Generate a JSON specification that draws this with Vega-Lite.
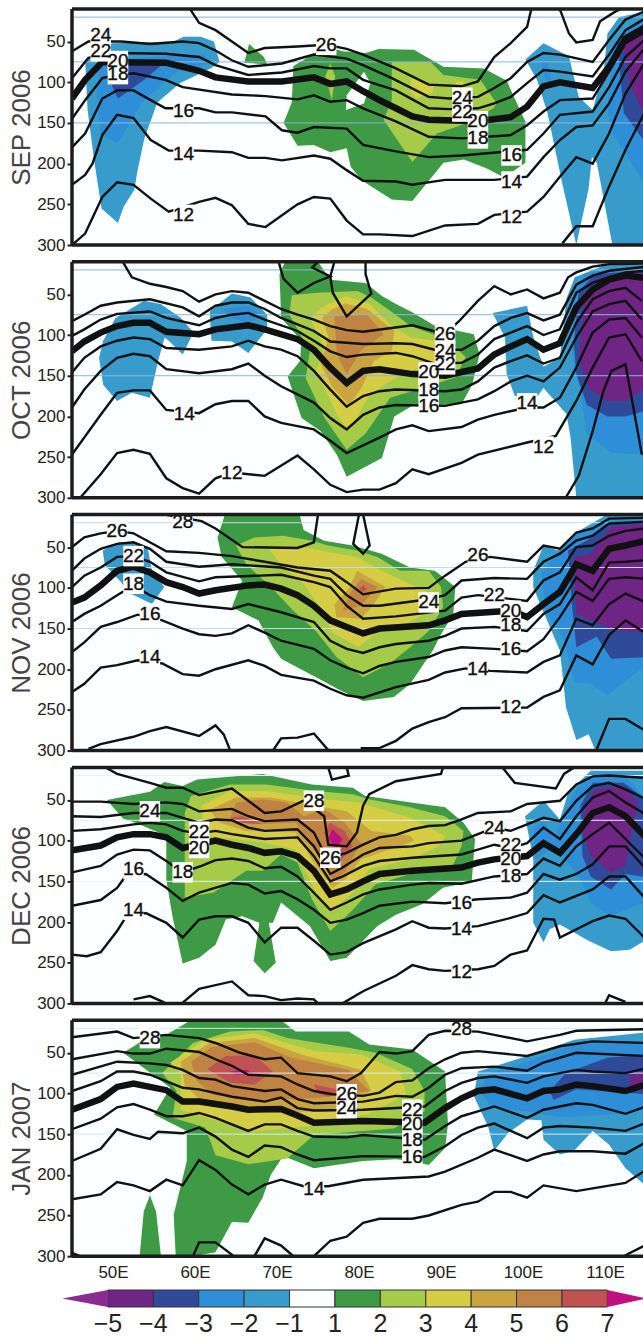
{"$schema":"https://vega.github.io/schema/vega-lite/v6.json","padding":{"left":8,"top":7,"right":0,"bottom":0},"background":"white","bounds":"flush","spacing":16.8,
"config":{"view":{"fill":"#fbffff","stroke":null},"axisY":{"values":[50,100,150,200,250,300],"domain":false,"grid":false,"tickColor":"#222","tickWidth":2,"tickSize":5,"labelFont":"Liberation Sans","labelFontSize":17,"labelColor":"#222","labelPadding":2,"titleFont":"Liberation Sans","titleFontSize":26,"titleFontWeight":"normal","titleColor":"#444","titlePadding":2}},
"datasets":{
"h":[{"x":45,"x2":115,"y":20},{"x":45,"x2":115,"y":75},{"x":45,"x2":115,"y":150}],
"e":[{"x":45,"x2":115,"y":10},{"x":45,"x2":115,"y":300}],
"w":[{"x":45,"y":10,"y2":300}],
"c":[{"v":-5,"x":0,"x2":1,"y":0,"y2":1},{"v":-4,"x":1,"x2":2,"y":0,"y2":1},{"v":-3,"x":2,"x2":3,"y":0,"y2":1},{"v":-2,"x":3,"x2":4,"y":0,"y2":1},{"v":0,"x":4,"x2":5,"y":0,"y2":1},{"v":1,"x":5,"x2":6,"y":0,"y2":1},{"v":2,"x":6,"x2":7,"y":0,"y2":1},{"v":3,"x":7,"x2":8,"y":0,"y2":1},{"v":4,"x":8,"x2":9,"y":0,"y2":1},{"v":5,"x":9,"x2":10,"y":0,"y2":1},{"v":6,"x":10,"x2":11,"y":0,"y2":1}],
"k":[{"s":"a","v":-6,"x":0,"y":0},{"s":"a","v":-6,"x":-1,"y":0.5},{"s":"a","v":-6,"x":0,"y":1},{"s":"b","v":7,"x":11,"y":0},{"s":"b","v":7,"x":11.85,"y":0.5},{"s":"b","v":7,"x":11,"y":1}],
"m":[{"x":0,"t":"−5"},{"x":1,"t":"−4"},{"x":2,"t":"−3"},{"x":3,"t":"−2"},{"x":4,"t":"−1"},{"x":5,"t":"1"},{"x":6,"t":"2"},{"x":7,"t":"3"},{"x":8,"t":"4"},{"x":9,"t":"5"},{"x":10,"t":"6"},{"x":11,"t":"7"}],
"t1":[{"x":48.5,"y":42,"t":"24"},{"x":48.5,"y":62,"t":"22"},{"x":50.6,"y":90,"t":"18"},{"x":50.6,"y":74,"t":"20"},{"x":58.6,"y":135,"t":"16"},{"x":58.6,"y":188,"t":"14"},{"x":58.6,"y":263,"t":"12"},{"x":76,"y":54,"t":"26"},{"x":92.6,"y":136,"t":"22"},{"x":92.6,"y":119,"t":"24"},{"x":98.6,"y":190,"t":"16"},{"x":94.5,"y":169,"t":"18"},{"x":94.5,"y":148,"t":"20"},{"x":98.6,"y":222,"t":"14"},{"x":98.6,"y":265,"t":"12"}],
"t2":[{"x":90.5,"y":99,"t":"26"},{"x":90.5,"y":136,"t":"22"},{"x":90.5,"y":120,"t":"24"},{"x":88.5,"y":146,"t":"20"},{"x":88.5,"y":167,"t":"18"},{"x":88.5,"y":187,"t":"16"},{"x":58.7,"y":197,"t":"14"},{"x":100.5,"y":184,"t":"14"},{"x":64.5,"y":269,"t":"12"},{"x":102.5,"y":237,"t":"12"}],
"t3":[{"x":58.5,"y":19,"t":"28"},{"x":50.5,"y":30,"t":"26"},{"x":52.5,"y":61,"t":"22"},{"x":52.5,"y":95,"t":"18"},{"x":54.5,"y":132,"t":"16"},{"x":54.5,"y":185,"t":"14"},{"x":94.5,"y":60,"t":"26"},{"x":88.5,"y":118,"t":"24"},{"x":96.5,"y":109,"t":"22"},{"x":98.5,"y":128,"t":"20"},{"x":98.5,"y":146,"t":"18"},{"x":98.5,"y":175,"t":"16"},{"x":94.5,"y":200,"t":"14"},{"x":98.5,"y":247,"t":"12"}],
"t4":[{"x":54.5,"y":64,"t":"24"},{"x":60.5,"y":89,"t":"22"},{"x":60.5,"y":109,"t":"20"},{"x":58.5,"y":139,"t":"18"},{"x":52.5,"y":135,"t":"16"},{"x":52.5,"y":185,"t":"14"},{"x":74.5,"y":51,"t":"28"},{"x":76.5,"y":121,"t":"26"},{"x":96.5,"y":84,"t":"24"},{"x":98.5,"y":105,"t":"22"},{"x":98.5,"y":122,"t":"20"},{"x":98.5,"y":144,"t":"18"},{"x":92.5,"y":177,"t":"16"},{"x":92.5,"y":208,"t":"14"},{"x":92.5,"y":262,"t":"12"}],
"t5":[{"x":54.5,"y":32,"t":"28"},{"x":92.5,"y":21,"t":"28"},{"x":78.5,"y":118,"t":"24"},{"x":78.5,"y":101,"t":"26"},{"x":86.5,"y":120,"t":"22"},{"x":86.5,"y":137,"t":"20"},{"x":86.5,"y":157,"t":"18"},{"x":86.5,"y":178,"t":"16"},{"x":74.5,"y":218,"t":"14"}],
"f1":[
{"s":"a","v":-2,"x":46.6,"y":72},{"s":"a","v":-2,"x":49.9,"y":52},{"s":"a","v":-2,"x":57.4,"y":50},{"s":"a","v":-2,"x":58.6,"y":44},{"s":"a","v":-2,"x":60.7,"y":44},{"s":"a","v":-2,"x":62.3,"y":50},{"s":"a","v":-2,"x":63,"y":75},{"s":"a","v":-2,"x":61.9,"y":83},{"s":"a","v":-2,"x":58.2,"y":101},{"s":"a","v":-2,"x":55.4,"y":125},{"s":"a","v":-2,"x":53.8,"y":170},{"s":"a","v":-2,"x":53,"y":208},{"s":"a","v":-2,"x":52.6,"y":232},{"s":"a","v":-2,"x":51.3,"y":253},{"s":"a","v":-2,"x":50.6,"y":273},{"s":"a","v":-2,"x":48.6,"y":255},{"s":"a","v":-2,"x":47.7,"y":196},{"s":"a","v":-2,"x":46.9,"y":134},
{"s":"b","v":-3,"x":48.5,"y":72},{"s":"b","v":-3,"x":61,"y":66},{"s":"b","v":-3,"x":62,"y":76},{"s":"b","v":-3,"x":58,"y":85},{"s":"b","v":-3,"x":53.5,"y":125},{"s":"b","v":-3,"x":50.6,"y":175},{"s":"b","v":-3,"x":48.5,"y":163},{"s":"b","v":-3,"x":48,"y":113},
{"s":"c","v":-4,"x":49.7,"y":78},{"s":"c","v":-4,"x":55.8,"y":80},{"s":"c","v":-4,"x":53.8,"y":97},{"s":"c","v":-4,"x":50.6,"y":120},{"s":"c","v":-4,"x":49.7,"y":100},
{"s":"d","v":-2,"x":100.3,"y":72},{"s":"d","v":-2,"x":102.5,"y":52},{"s":"d","v":-2,"x":105.6,"y":68},{"s":"d","v":-2,"x":106.8,"y":118},{"s":"d","v":-2,"x":108.5,"y":134},{"s":"d","v":-2,"x":109.9,"y":81},{"s":"d","v":-2,"x":110.3,"y":40},{"s":"d","v":-2,"x":111.7,"y":20},{"s":"d","v":-2,"x":115,"y":13},{"s":"d","v":-2,"x":115,"y":300},{"s":"d","v":-2,"x":110.9,"y":300},{"s":"d","v":-2,"x":109,"y":199},{"s":"d","v":-2,"x":108.4,"y":192},{"s":"d","v":-2,"x":108,"y":231},{"s":"d","v":-2,"x":106.5,"y":300},{"s":"d","v":-2,"x":104.8,"y":225},{"s":"d","v":-2,"x":103,"y":138},{"s":"d","v":-2,"x":101.7,"y":97},
{"s":"e","v":-3,"x":102.1,"y":75},{"s":"e","v":-3,"x":103,"y":75},{"s":"e","v":-3,"x":103.6,"y":105},{"s":"e","v":-3,"x":102.7,"y":95},
{"s":"f","v":-3,"x":111,"y":52},{"s":"f","v":-3,"x":114.5,"y":23},{"s":"f","v":-3,"x":115,"y":23},{"s":"f","v":-3,"x":115,"y":228},{"s":"f","v":-3,"x":111,"y":163},{"s":"f","v":-3,"x":110.3,"y":134},
{"s":"g","v":-4,"x":111.5,"y":52},{"s":"g","v":-4,"x":115,"y":28},{"s":"g","v":-4,"x":115,"y":175},{"s":"g","v":-4,"x":112.3,"y":138},
{"s":"i","v":-5,"x":112.3,"y":57},{"s":"i","v":-5,"x":115,"y":25},{"s":"i","v":-5,"x":115,"y":143},{"s":"i","v":-5,"x":113.1,"y":106},
{"s":"j","v":1,"x":66.6,"y":53},{"s":"j","v":1,"x":68.4,"y":69},{"s":"j","v":1,"x":68.8,"y":78},{"s":"j","v":1,"x":66,"y":76},
{"s":"k","v":1,"x":70.8,"y":150},{"s":"k","v":1,"x":71.8,"y":125},{"s":"k","v":1,"x":72,"y":80},{"s":"k","v":1,"x":76,"y":56},{"s":"k","v":1,"x":78,"y":62},{"s":"k","v":1,"x":80.8,"y":64},{"s":"k","v":1,"x":82.4,"y":59},{"s":"k","v":1,"x":86.7,"y":60},{"s":"k","v":1,"x":90.3,"y":81},{"s":"k","v":1,"x":95.2,"y":83},{"s":"k","v":1,"x":98,"y":98},{"s":"k","v":1,"x":100.3,"y":149},{"s":"k","v":1,"x":100.3,"y":199},{"s":"k","v":1,"x":97.7,"y":217},{"s":"k","v":1,"x":95.6,"y":206},{"s":"k","v":1,"x":92.8,"y":195},{"s":"k","v":1,"x":90.3,"y":199},{"s":"k","v":1,"x":86.5,"y":246},{"s":"k","v":1,"x":84,"y":244},{"s":"k","v":1,"x":80.4,"y":221},{"s":"k","v":1,"x":79,"y":204},{"s":"k","v":1,"x":78.5,"y":181},{"s":"k","v":1,"x":76.5,"y":186},{"s":"k","v":1,"x":74.5,"y":177},{"s":"k","v":1,"x":72.5,"y":178},
{"s":"l","v":0,"x":80.6,"y":87},{"s":"l","v":0,"x":81.4,"y":101},{"s":"l","v":0,"x":80.6,"y":126},{"s":"l","v":0,"x":78.4,"y":134},{"s":"l","v":0,"x":78.5,"y":116},
{"s":"m","v":2,"x":84,"y":75},{"s":"m","v":2,"x":88.7,"y":75},{"s":"m","v":2,"x":90.3,"y":91},{"s":"m","v":2,"x":94.8,"y":97},{"s":"m","v":2,"x":96.8,"y":126},{"s":"m","v":2,"x":96.4,"y":132},{"s":"m","v":2,"x":93.2,"y":150},{"s":"m","v":2,"x":89.5,"y":163},{"s":"m","v":2,"x":86.5,"y":198},{"s":"m","v":2,"x":83,"y":146},{"s":"m","v":2,"x":84,"y":122},
{"s":"n","v":2,"x":76.5,"y":77},{"s":"n","v":2,"x":75.9,"y":93},{"s":"n","v":2,"x":76.7,"y":122},{"s":"n","v":2,"x":77.1,"y":93},
{"s":"o","v":3,"x":86.3,"y":95},{"s":"o","v":3,"x":89.1,"y":105},{"s":"o","v":3,"x":89,"y":113},{"s":"o","v":3,"x":86.9,"y":120},{"s":"o","v":3,"x":86.3,"y":110},
{"s":"q","v":3,"x":91.8,"y":99},{"s":"q","v":3,"x":92.8,"y":99},{"s":"q","v":3,"x":92.6,"y":106},{"s":"q","v":3,"x":91.8,"y":106}],
"l1":[
{"s":"26","x":59.4,"y":10},{"s":"26","x":60.5,"y":27},{"s":"26","x":62.5,"y":36},{"s":"26","x":64.5,"y":50},{"s":"26","x":66.5,"y":64},{"s":"26","x":68.5,"y":58},{"s":"26","x":72.5,"y":56},{"s":"26","x":76,"y":54},{"s":"26","x":78.5,"y":59},{"s":"26","x":80.5,"y":66},{"s":"26","x":84.5,"y":83},{"s":"26","x":88.5,"y":103},{"s":"26","x":92.5,"y":105},{"s":"26","x":94.5,"y":99},{"s":"26","x":96.5,"y":69},{"s":"26","x":98.5,"y":52},{"s":"26","x":100.5,"y":32},{"s":"26","x":100.9,"y":15},{"s":"26","x":101,"y":10},
{"s":"28","x":104.4,"y":10},{"s":"28","x":104.6,"y":13},{"s":"28","x":105.6,"y":40},{"s":"28","x":106.5,"y":51},{"s":"28","x":108.5,"y":48},{"s":"28","x":109.4,"y":25},{"s":"28","x":111.3,"y":13},{"s":"28","x":112,"y":10},
{"s":"24","x":45,"y":62},{"s":"24","x":47,"y":50},{"s":"24","x":51,"y":50},{"s":"24","x":54.6,"y":53},{"s":"24","x":58.5,"y":50},{"s":"24","x":60.5,"y":52},{"s":"24","x":62.5,"y":61},{"s":"24","x":64.5,"y":73},{"s":"24","x":66.5,"y":81},{"s":"24","x":70.6,"y":77},{"s":"24","x":74.5,"y":66},{"s":"24","x":78.5,"y":71},{"s":"24","x":80.5,"y":79},{"s":"24","x":84,"y":95},{"s":"24","x":88.5,"y":118},{"s":"24","x":91,"y":120},{"s":"24","x":94.5,"y":118},{"s":"24","x":96.5,"y":107},{"s":"24","x":98.5,"y":95},{"s":"24","x":100.5,"y":75},{"s":"24","x":102.5,"y":64},{"s":"24","x":104.5,"y":66},{"s":"24","x":108.5,"y":75},{"s":"24","x":110.5,"y":48},{"s":"24","x":112.5,"y":23},{"s":"24","x":115,"y":12},
{"s":"22","x":45,"y":95},{"s":"22","x":47,"y":70},{"s":"22","x":50.5,"y":64},{"s":"22","x":56.4,"y":65},{"s":"22","x":60.5,"y":69},{"s":"22","x":62.5,"y":79},{"s":"22","x":66.5,"y":91},{"s":"22","x":70.6,"y":88},{"s":"22","x":74.5,"y":80},{"s":"22","x":76.5,"y":83},{"s":"22","x":78.5,"y":83},{"s":"22","x":80.5,"y":97},{"s":"22","x":84.5,"y":110},{"s":"22","x":88.5,"y":132},{"s":"22","x":91,"y":133},{"s":"22","x":94.5,"y":132},{"s":"22","x":96.5,"y":126},{"s":"22","x":98.5,"y":118},{"s":"22","x":100.5,"y":101},{"s":"22","x":102.5,"y":85},{"s":"22","x":104.5,"y":87},{"s":"22","x":108.5,"y":93},{"s":"22","x":110.5,"y":66},{"s":"22","x":112.5,"y":36},{"s":"22","x":115,"y":21},
{"s":"20","x":45,"y":120},{"s":"20","x":46.6,"y":97},{"s":"20","x":48.7,"y":75},{"s":"20","x":56.4,"y":76},{"s":"20","x":58.5,"y":81},{"s":"20","x":60.5,"y":86},{"s":"20","x":62.5,"y":94},{"s":"20","x":66.5,"y":99},{"s":"20","x":70.6,"y":99},{"s":"20","x":74.5,"y":94},{"s":"20","x":76.5,"y":102},{"s":"20","x":78.5,"y":99},{"s":"20","x":80.5,"y":111},{"s":"20","x":82.5,"y":122},{"s":"20","x":84.5,"y":132},{"s":"20","x":86.5,"y":142},{"s":"20","x":88.5,"y":146},{"s":"20","x":94.5,"y":148},{"s":"20","x":98.5,"y":143},{"s":"20","x":100.5,"y":130},{"s":"20","x":102.5,"y":105},{"s":"20","x":104.5,"y":100},{"s":"20","x":108.5,"y":107},{"s":"20","x":110.5,"y":81},{"s":"20","x":112.5,"y":46},{"s":"20","x":115,"y":32},
{"s":"18","x":45,"y":145},{"s":"18","x":46.6,"y":122},{"s":"18","x":48.7,"y":95},{"s":"18","x":50.5,"y":91},{"s":"18","x":52.5,"y":89},{"s":"18","x":56.4,"y":97},{"s":"18","x":58.5,"y":106},{"s":"18","x":64.5,"y":115},{"s":"18","x":68.6,"y":117},{"s":"18","x":72.5,"y":121},{"s":"18","x":74.5,"y":116},{"s":"18","x":76.5,"y":124},{"s":"18","x":78.5,"y":122},{"s":"18","x":80.5,"y":132},{"s":"18","x":84.5,"y":148},{"s":"18","x":88.5,"y":167},{"s":"18","x":92.5,"y":169},{"s":"18","x":98.5,"y":165},{"s":"18","x":100.5,"y":153},{"s":"18","x":102.5,"y":136},{"s":"18","x":104.5,"y":122},{"s":"18","x":108.5,"y":120},{"s":"18","x":110.5,"y":87},{"s":"18","x":112.5,"y":52},{"s":"18","x":115,"y":38},
{"s":"16","x":45,"y":180},{"s":"16","x":46.6,"y":163},{"s":"16","x":48.7,"y":120},{"s":"16","x":50.5,"y":110},{"s":"16","x":52.5,"y":110},{"s":"16","x":54.6,"y":122},{"s":"16","x":56.4,"y":132},{"s":"16","x":60.5,"y":132},{"s":"16","x":62.5,"y":137},{"s":"16","x":64.5,"y":137},{"s":"16","x":68.6,"y":142},{"s":"16","x":70.6,"y":159},{"s":"16","x":72.5,"y":162},{"s":"16","x":74.5,"y":155},{"s":"16","x":78.5,"y":157},{"s":"16","x":80.5,"y":177},{"s":"16","x":84.5,"y":185},{"s":"16","x":88.5,"y":192},{"s":"16","x":92.5,"y":190},{"s":"16","x":100.5,"y":183},{"s":"16","x":102.5,"y":163},{"s":"16","x":104.5,"y":140},{"s":"16","x":108.5,"y":136},{"s":"16","x":110.5,"y":106},{"s":"16","x":112.5,"y":69},{"s":"16","x":115,"y":46},
{"s":"14","x":45,"y":226},{"s":"14","x":46.6,"y":214},{"s":"14","x":47.5,"y":200},{"s":"14","x":48.7,"y":165},{"s":"14","x":50.5,"y":140},{"s":"14","x":52.5,"y":144},{"s":"14","x":54.6,"y":171},{"s":"14","x":56.8,"y":184},{"s":"14","x":60.5,"y":184},{"s":"14","x":64.5,"y":186},{"s":"14","x":66.5,"y":193},{"s":"14","x":68.6,"y":193},{"s":"14","x":70.6,"y":196},{"s":"14","x":74.5,"y":190},{"s":"14","x":76.5,"y":194},{"s":"14","x":78.5,"y":208},{"s":"14","x":80.5,"y":221},{"s":"14","x":84.5,"y":222},{"s":"14","x":86.5,"y":226},{"s":"14","x":90.5,"y":220},{"s":"14","x":96.5,"y":220},{"s":"14","x":100.5,"y":216},{"s":"14","x":102.5,"y":192},{"s":"14","x":104.5,"y":171},{"s":"14","x":106.5,"y":155},{"s":"14","x":108.5,"y":153},{"s":"14","x":110.5,"y":126},{"s":"14","x":112.5,"y":87},{"s":"14","x":115,"y":56},
{"s":"12","x":45,"y":300},{"s":"12","x":46.6,"y":286},{"s":"12","x":48.7,"y":241},{"s":"12","x":50.5,"y":223},{"s":"12","x":52.5,"y":226},{"s":"12","x":54.6,"y":243},{"s":"12","x":56.8,"y":259},{"s":"12","x":60.5,"y":247},{"s":"12","x":62.5,"y":242},{"s":"12","x":64.5,"y":251},{"s":"12","x":66.5,"y":274},{"s":"12","x":68.6,"y":278},{"s":"12","x":72.5,"y":250},{"s":"12","x":74.5,"y":241},{"s":"12","x":76.5,"y":243},{"s":"12","x":78.5,"y":270},{"s":"12","x":80.5,"y":287},{"s":"12","x":82.5,"y":287},{"s":"12","x":86.5,"y":289},{"s":"12","x":90.5,"y":276},{"s":"12","x":94.5,"y":274},{"s":"12","x":96.5,"y":263},{"s":"12","x":100.5,"y":259},{"s":"12","x":102.5,"y":241},{"s":"12","x":104.5,"y":216},{"s":"12","x":106.5,"y":192},{"s":"12","x":108.5,"y":200},{"s":"12","x":110.5,"y":163},{"s":"12","x":112.5,"y":114},{"s":"12","x":115,"y":73},
{"s":"10","x":104.8,"y":298},{"s":"10","x":106.5,"y":277},{"s":"10","x":108.5,"y":277},{"s":"10","x":110.5,"y":228},{"s":"10","x":112.5,"y":183},{"s":"10","x":115,"y":134}],
"f2":[
{"s":"a","v":-2,"x":50.3,"y":79},{"s":"a","v":-2,"x":53.8,"y":58},{"s":"a","v":-2,"x":55.8,"y":62},{"s":"a","v":-2,"x":58.3,"y":79},{"s":"a","v":-2,"x":59.8,"y":97},{"s":"a","v":-2,"x":58.5,"y":124},{"s":"a","v":-2,"x":56.8,"y":107},{"s":"a","v":-2,"x":56.3,"y":103},{"s":"a","v":-2,"x":55.5,"y":132},{"s":"a","v":-2,"x":54.5,"y":177},{"s":"a","v":-2,"x":52.3,"y":171},{"s":"a","v":-2,"x":50.5,"y":181},{"s":"a","v":-2,"x":48.8,"y":161},{"s":"a","v":-2,"x":48.3,"y":128},{"s":"a","v":-2,"x":48.8,"y":107},
{"s":"b","v":-2,"x":61.8,"y":71},{"s":"b","v":-2,"x":64.5,"y":49},{"s":"b","v":-2,"x":66.8,"y":54},{"s":"b","v":-2,"x":68.8,"y":75},{"s":"b","v":-2,"x":68.8,"y":93},{"s":"b","v":-2,"x":66.5,"y":122},{"s":"b","v":-2,"x":64.5,"y":108},{"s":"b","v":-2,"x":62,"y":107},
{"s":"c","v":-3,"x":63.5,"y":68},{"s":"c","v":-3,"x":66.3,"y":64},{"s":"c","v":-3,"x":68.3,"y":77},{"s":"c","v":-3,"x":66.3,"y":85},{"s":"c","v":-3,"x":64.2,"y":78},
{"s":"d","v":-2,"x":96.3,"y":73},{"s":"d","v":-2,"x":100.5,"y":64},{"s":"d","v":-2,"x":101.3,"y":104},{"s":"d","v":-2,"x":102.5,"y":139},{"s":"d","v":-2,"x":104.5,"y":128},{"s":"d","v":-2,"x":105.3,"y":55},{"s":"d","v":-2,"x":106.3,"y":29},{"s":"d","v":-2,"x":109.8,"y":15},{"s":"d","v":-2,"x":115,"y":13},{"s":"d","v":-2,"x":115,"y":300},{"s":"d","v":-2,"x":112.5,"y":300},{"s":"d","v":-2,"x":106.5,"y":300},{"s":"d","v":-2,"x":105.8,"y":226},{"s":"d","v":-2,"x":105.3,"y":197},{"s":"d","v":-2,"x":102.5,"y":165},{"s":"d","v":-2,"x":101.8,"y":175},{"s":"d","v":-2,"x":99,"y":175},{"s":"d","v":-2,"x":98,"y":148},{"s":"d","v":-2,"x":97.8,"y":103},
{"s":"e","v":-3,"x":106.3,"y":46},{"s":"e","v":-3,"x":107.5,"y":25},{"s":"e","v":-3,"x":111,"y":17},{"s":"e","v":-3,"x":115,"y":17},{"s":"e","v":-3,"x":115,"y":247},{"s":"e","v":-3,"x":110.8,"y":245},{"s":"e","v":-3,"x":107.8,"y":222},{"s":"e","v":-3,"x":107,"y":172},{"s":"e","v":-3,"x":106,"y":124},
{"s":"f","v":-4,"x":106.8,"y":46},{"s":"f","v":-4,"x":108.8,"y":25},{"s":"f","v":-4,"x":115,"y":21},{"s":"f","v":-4,"x":115,"y":193},{"s":"f","v":-4,"x":112.5,"y":200},{"s":"f","v":-4,"x":110.3,"y":200},{"s":"f","v":-4,"x":107.8,"y":186},{"s":"f","v":-4,"x":106.5,"y":148},{"s":"f","v":-4,"x":106.2,"y":110},
{"s":"g","v":-5,"x":107.5,"y":54},{"s":"g","v":-5,"x":109.5,"y":29},{"s":"g","v":-5,"x":115,"y":23},{"s":"g","v":-5,"x":115,"y":165},{"s":"g","v":-5,"x":112.5,"y":181},{"s":"g","v":-5,"x":110.3,"y":181},{"s":"g","v":-5,"x":108,"y":165},{"s":"g","v":-5,"x":106.8,"y":128},
{"s":"i","v":1,"x":70.3,"y":25},{"s":"i","v":1,"x":71,"y":10},{"s":"i","v":1,"x":75,"y":10},{"s":"i","v":1,"x":76.5,"y":32},{"s":"i","v":1,"x":80.8,"y":36},{"s":"i","v":1,"x":82.8,"y":52},{"s":"i","v":1,"x":84.5,"y":62},{"s":"i","v":1,"x":86.5,"y":72},{"s":"i","v":1,"x":89.3,"y":89},{"s":"i","v":1,"x":94,"y":99},{"s":"i","v":1,"x":94.7,"y":124},{"s":"i","v":1,"x":93.8,"y":161},{"s":"i","v":1,"x":92.5,"y":185},{"s":"i","v":1,"x":86.5,"y":187},{"s":"i","v":1,"x":84.3,"y":200},{"s":"i","v":1,"x":82.8,"y":251},{"s":"i","v":1,"x":78.5,"y":274},{"s":"i","v":1,"x":77.3,"y":247},{"s":"i","v":1,"x":75.3,"y":218},{"s":"i","v":1,"x":73,"y":202},{"s":"i","v":1,"x":71.3,"y":151},{"s":"i","v":1,"x":72.8,"y":132},{"s":"i","v":1,"x":73,"y":107},{"s":"i","v":1,"x":70.5,"y":79},{"s":"i","v":1,"x":70.4,"y":50},
{"s":"j","v":2,"x":71.8,"y":51},{"s":"j","v":2,"x":74.8,"y":48},{"s":"j","v":2,"x":79.8,"y":46},{"s":"j","v":2,"x":81.5,"y":54},{"s":"j","v":2,"x":83.8,"y":70},{"s":"j","v":2,"x":86.3,"y":89},{"s":"j","v":2,"x":89.3,"y":100},{"s":"j","v":2,"x":91.3,"y":110},{"s":"j","v":2,"x":93,"y":127},{"s":"j","v":2,"x":91.8,"y":152},{"s":"j","v":2,"x":87.8,"y":165},{"s":"j","v":2,"x":83.8,"y":177},{"s":"j","v":2,"x":80.8,"y":221},{"s":"j","v":2,"x":78.5,"y":241},{"s":"j","v":2,"x":75.8,"y":202},{"s":"j","v":2,"x":73.5,"y":153},{"s":"j","v":2,"x":74,"y":120},{"s":"j","v":2,"x":71.5,"y":75},
{"s":"k","v":3,"x":75.5,"y":66},{"s":"k","v":3,"x":78.3,"y":52},{"s":"k","v":3,"x":81.3,"y":62},{"s":"k","v":3,"x":83.8,"y":87},{"s":"k","v":3,"x":86.3,"y":103},{"s":"k","v":3,"x":89.3,"y":107},{"s":"k","v":3,"x":89.3,"y":132},{"s":"k","v":3,"x":84.3,"y":153},{"s":"k","v":3,"x":81.3,"y":173},{"s":"k","v":3,"x":78.8,"y":218},{"s":"k","v":3,"x":77.3,"y":198},{"s":"k","v":3,"x":74.8,"y":144},{"s":"k","v":3,"x":75.8,"y":115},{"s":"k","v":3,"x":74,"y":79},
{"s":"l","v":4,"x":76.8,"y":68},{"s":"l","v":4,"x":78.3,"y":61},{"s":"l","v":4,"x":81,"y":68},{"s":"l","v":4,"x":84.3,"y":95},{"s":"l","v":4,"x":84,"y":120},{"s":"l","v":4,"x":81.8,"y":132},{"s":"l","v":4,"x":80.3,"y":165},{"s":"l","v":4,"x":78.8,"y":186},{"s":"l","v":4,"x":76.8,"y":165},{"s":"l","v":4,"x":75.3,"y":135},{"s":"l","v":4,"x":76.3,"y":103},{"s":"l","v":4,"x":75.5,"y":79},
{"s":"m","v":5,"x":77,"y":77},{"s":"m","v":5,"x":81,"y":75},{"s":"m","v":5,"x":83,"y":99},{"s":"m","v":5,"x":80.3,"y":118},{"s":"m","v":5,"x":78.5,"y":148},{"s":"m","v":5,"x":77.3,"y":124}],
"l2":[
{"s":"26","x":51.2,"y":10},{"s":"26","x":52.3,"y":29},{"s":"26","x":54.5,"y":37},{"s":"26","x":56.5,"y":41},{"s":"26","x":58.5,"y":46},{"s":"26","x":60.5,"y":59},{"s":"26","x":62.5,"y":50},{"s":"26","x":64.5,"y":46},{"s":"26","x":66.5,"y":48},{"s":"26","x":68.5,"y":58},{"s":"26","x":70.5,"y":68},{"s":"26","x":72.5,"y":75},{"s":"26","x":74.5,"y":81},{"s":"26","x":76.5,"y":89},{"s":"26","x":78.5,"y":94},{"s":"26","x":80.5,"y":96},{"s":"26","x":86.5,"y":88},{"s":"26","x":90.5,"y":99},{"s":"26","x":92.2,"y":83},{"s":"26","x":94.5,"y":58},{"s":"26","x":96.5,"y":40},{"s":"26","x":98.5,"y":50},{"s":"26","x":100.5,"y":44},{"s":"26","x":102.5,"y":55},{"s":"26","x":104.5,"y":48},{"s":"26","x":105.5,"y":29},{"s":"26","x":106.5,"y":23},{"s":"26","x":108.5,"y":16},{"s":"26","x":110.5,"y":13},{"s":"26","x":115,"y":12},
{"s":"28a","x":70.2,"y":10},{"s":"28a","x":70.8,"y":31},{"s":"28a","x":72.5,"y":48},{"s":"28a","x":74.5,"y":36},{"s":"28a","x":76.5,"y":28},{"s":"28a","x":74.3,"y":17},{"s":"28a","x":75,"y":10},
{"s":"28b","x":77,"y":10},{"s":"28b","x":76.5,"y":28},{"s":"28b","x":76.8,"y":48},{"s":"28b","x":78.5,"y":77},{"s":"28b","x":81.5,"y":49},{"s":"28b","x":80.8,"y":25},{"s":"28b","x":80.8,"y":10},
{"s":"24","x":45,"y":83},{"s":"24","x":46.5,"y":75},{"s":"24","x":48.5,"y":64},{"s":"24","x":50.5,"y":60},{"s":"24","x":54.5,"y":56},{"s":"24","x":58.5,"y":66},{"s":"24","x":60.5,"y":77},{"s":"24","x":62.5,"y":64},{"s":"24","x":64.5,"y":60},{"s":"24","x":66.5,"y":60},{"s":"24","x":68.5,"y":68},{"s":"24","x":70.5,"y":79},{"s":"24","x":72.5,"y":87},{"s":"24","x":74.5,"y":95},{"s":"24","x":76.5,"y":108},{"s":"24","x":80.5,"y":111},{"s":"24","x":84.5,"y":110},{"s":"24","x":86.5,"y":111},{"s":"24","x":89.2,"y":118},{"s":"24","x":92.5,"y":118},{"s":"24","x":94.5,"y":107},{"s":"24","x":96.5,"y":89},{"s":"24","x":98.5,"y":79},{"s":"24","x":100.5,"y":73},{"s":"24","x":102.5,"y":82},{"s":"24","x":104.5,"y":75},{"s":"24","x":106.5,"y":38},{"s":"24","x":108.5,"y":27},{"s":"24","x":110.5,"y":21},{"s":"24","x":115,"y":16},
{"s":"22","x":45,"y":101},{"s":"22","x":46.5,"y":93},{"s":"22","x":48.5,"y":81},{"s":"22","x":50.5,"y":74},{"s":"22","x":54.5,"y":71},{"s":"22","x":56.5,"y":79},{"s":"22","x":60.5,"y":88},{"s":"22","x":62.5,"y":79},{"s":"22","x":64.5,"y":75},{"s":"22","x":66.5,"y":73},{"s":"22","x":68.5,"y":81},{"s":"22","x":72.5,"y":95},{"s":"22","x":74.5,"y":107},{"s":"22","x":76.5,"y":120},{"s":"22","x":78.5,"y":127},{"s":"22","x":80.5,"y":124},{"s":"22","x":84.5,"y":122},{"s":"22","x":86.5,"y":126},{"s":"22","x":89.2,"y":135},{"s":"22","x":92.5,"y":134},{"s":"22","x":94.5,"y":124},{"s":"22","x":96.5,"y":105},{"s":"22","x":98.5,"y":97},{"s":"22","x":100.5,"y":89},{"s":"22","x":102.5,"y":100},{"s":"22","x":104.5,"y":93},{"s":"22","x":106.5,"y":48},{"s":"22","x":108.5,"y":36},{"s":"22","x":110.5,"y":29},{"s":"22","x":112.5,"y":23},{"s":"22","x":115,"y":21},
{"s":"20","x":45,"y":120},{"s":"20","x":46.5,"y":108},{"s":"20","x":48.5,"y":97},{"s":"20","x":50.5,"y":89},{"s":"20","x":52.5,"y":85},{"s":"20","x":54.5,"y":85},{"s":"20","x":56.5,"y":96},{"s":"20","x":60.5,"y":99},{"s":"20","x":62.5,"y":93},{"s":"20","x":66.5,"y":88},{"s":"20","x":68.5,"y":93},{"s":"20","x":72.5,"y":105},{"s":"20","x":74.5,"y":118},{"s":"20","x":76.5,"y":140},{"s":"20","x":78.5,"y":159},{"s":"20","x":80.5,"y":144},{"s":"20","x":82.5,"y":142},{"s":"20","x":86.5,"y":148},{"s":"20","x":90.5,"y":150},{"s":"20","x":94.5,"y":141},{"s":"20","x":96.5,"y":124},{"s":"20","x":98.5,"y":114},{"s":"20","x":100.5,"y":105},{"s":"20","x":102.5,"y":118},{"s":"20","x":104.5,"y":110},{"s":"20","x":106.5,"y":66},{"s":"20","x":108.5,"y":44},{"s":"20","x":110.5,"y":32},{"s":"20","x":112.5,"y":27},{"s":"20","x":115,"y":30},
{"s":"18","x":45,"y":146},{"s":"18","x":46.5,"y":128},{"s":"18","x":48.5,"y":114},{"s":"18","x":50.5,"y":107},{"s":"18","x":52.5,"y":103},{"s":"18","x":54.5,"y":105},{"s":"18","x":56.5,"y":116},{"s":"18","x":60.5,"y":118},{"s":"18","x":64.5,"y":114},{"s":"18","x":66.5,"y":107},{"s":"18","x":68.5,"y":114},{"s":"18","x":70.5,"y":118},{"s":"18","x":72.5,"y":126},{"s":"18","x":74.5,"y":144},{"s":"18","x":76.5,"y":167},{"s":"18","x":78.5,"y":188},{"s":"18","x":80.5,"y":175},{"s":"18","x":82.5,"y":169},{"s":"18","x":84.5,"y":167},{"s":"18","x":90.5,"y":169},{"s":"18","x":92.5,"y":167},{"s":"18","x":94.5,"y":157},{"s":"18","x":96.5,"y":140},{"s":"18","x":98.5,"y":132},{"s":"18","x":100.5,"y":125},{"s":"18","x":102.5,"y":135},{"s":"18","x":104.5,"y":128},{"s":"18","x":106.5,"y":85},{"s":"18","x":108.5,"y":56},{"s":"18","x":110.5,"y":46},{"s":"18","x":112.5,"y":42},{"s":"18","x":114.5,"y":58},
{"s":"16","x":45,"y":189},{"s":"16","x":46.5,"y":167},{"s":"16","x":48.5,"y":144},{"s":"16","x":50.5,"y":128},{"s":"16","x":52.5,"y":123},{"s":"16","x":54.5,"y":126},{"s":"16","x":56.5,"y":142},{"s":"16","x":60.5,"y":147},{"s":"16","x":64.5,"y":142},{"s":"16","x":66.5,"y":135},{"s":"16","x":68.5,"y":150},{"s":"16","x":70.5,"y":163},{"s":"16","x":72.5,"y":173},{"s":"16","x":74.5,"y":183},{"s":"16","x":76.5,"y":202},{"s":"16","x":78.5,"y":216},{"s":"16","x":80.5,"y":198},{"s":"16","x":82.5,"y":189},{"s":"16","x":84.5,"y":186},{"s":"16","x":90.5,"y":187},{"s":"16","x":94.5,"y":179},{"s":"16","x":96.5,"y":169},{"s":"16","x":98.5,"y":157},{"s":"16","x":100.5,"y":150},{"s":"16","x":102.5,"y":157},{"s":"16","x":104.5,"y":140},{"s":"16","x":106.5,"y":103},{"s":"16","x":108.5,"y":71},{"s":"16","x":110.5,"y":62},{"s":"16","x":112.5,"y":58},{"s":"16","x":114.5,"y":81},
{"s":"14","x":45,"y":247},{"s":"14","x":48.5,"y":198},{"s":"14","x":50.5,"y":171},{"s":"14","x":52.5,"y":168},{"s":"14","x":54.5,"y":168},{"s":"14","x":56.5,"y":192},{"s":"14","x":60.5,"y":196},{"s":"14","x":62.5,"y":185},{"s":"14","x":64.5,"y":181},{"s":"14","x":66.5,"y":181},{"s":"14","x":68.5,"y":200},{"s":"14","x":70.5,"y":208},{"s":"14","x":74.5,"y":216},{"s":"14","x":76.5,"y":230},{"s":"14","x":78.5,"y":245},{"s":"14","x":82.5,"y":226},{"s":"14","x":84.5,"y":216},{"s":"14","x":86.5,"y":211},{"s":"14","x":88.5,"y":218},{"s":"14","x":92.5,"y":213},{"s":"14","x":94.5,"y":204},{"s":"14","x":96.5,"y":198},{"s":"14","x":100.5,"y":189},{"s":"14","x":102.5,"y":189},{"s":"14","x":104.5,"y":177},{"s":"14","x":106.5,"y":140},{"s":"14","x":108.5,"y":97},{"s":"14","x":110.5,"y":81},{"s":"14","x":112.5,"y":79},{"s":"14","x":114.5,"y":103},
{"s":"12","x":46,"y":300},{"s":"12","x":48.5,"y":271},{"s":"12","x":50.5,"y":245},{"s":"12","x":52.5,"y":241},{"s":"12","x":54.5,"y":246},{"s":"12","x":56.5,"y":276},{"s":"12","x":58.5,"y":288},{"s":"12","x":60.5,"y":295},{"s":"12","x":62.5,"y":276},{"s":"12","x":64.5,"y":269},{"s":"12","x":68.5,"y":273},{"s":"12","x":72.5,"y":248},{"s":"12","x":74.5,"y":265},{"s":"12","x":76.5,"y":284},{"s":"12","x":78.5,"y":293},{"s":"12","x":80.5,"y":290},{"s":"12","x":82.5,"y":290},{"s":"12","x":84.5,"y":282},{"s":"12","x":86.5,"y":265},{"s":"12","x":88.5,"y":271},{"s":"12","x":92.5,"y":257},{"s":"12","x":94.5,"y":247},{"s":"12","x":100.5,"y":232},{"s":"12","x":104,"y":224},{"s":"12","x":106.5,"y":181},{"s":"12","x":108.5,"y":140},{"s":"12","x":110.5,"y":103},{"s":"12","x":112.5,"y":99},{"s":"12","x":114.5,"y":132},
{"s":"10","x":105.2,"y":300},{"s":"10","x":106.8,"y":273},{"s":"10","x":108.5,"y":218},{"s":"10","x":109.8,"y":169},{"s":"10","x":110.8,"y":144},{"s":"10","x":112.5,"y":136},{"s":"10","x":114.5,"y":247}],
"f3":[
{"s":"a","v":-2,"x":48.75,"y":54},{"s":"a","v":-2,"x":50.75,"y":44},{"s":"a","v":-2,"x":52.75,"y":44},{"s":"a","v":-2,"x":54.25,"y":52},{"s":"a","v":-2,"x":54.75,"y":79},{"s":"a","v":-2,"x":56.25,"y":99},{"s":"a","v":-2,"x":54.75,"y":120},{"s":"a","v":-2,"x":51.75,"y":105},{"s":"a","v":-2,"x":51,"y":93},{"s":"a","v":-2,"x":49,"y":72},
{"s":"b","v":-2,"x":101.25,"y":79},{"s":"b","v":-2,"x":102.5,"y":48},{"s":"b","v":-2,"x":104.25,"y":54},{"s":"b","v":-2,"x":106.5,"y":32},{"s":"b","v":-2,"x":110.25,"y":10},{"s":"b","v":-2,"x":115,"y":10},{"s":"b","v":-2,"x":115,"y":300},{"s":"b","v":-2,"x":108.75,"y":298},{"s":"b","v":-2,"x":108,"y":280},{"s":"b","v":-2,"x":106.5,"y":287},{"s":"b","v":-2,"x":105.25,"y":247},{"s":"b","v":-2,"x":104.5,"y":177},{"s":"b","v":-2,"x":102.25,"y":124},{"s":"b","v":-2,"x":101.25,"y":99},
{"s":"c","v":-3,"x":102.25,"y":82},{"s":"c","v":-3,"x":104.5,"y":52},{"s":"c","v":-3,"x":106.5,"y":33},{"s":"c","v":-3,"x":110.25,"y":17},{"s":"c","v":-3,"x":115,"y":15},{"s":"c","v":-3,"x":115,"y":195},{"s":"c","v":-3,"x":110.25,"y":232},{"s":"c","v":-3,"x":108.25,"y":218},{"s":"c","v":-3,"x":106.25,"y":216},{"s":"c","v":-3,"x":105,"y":165},{"s":"c","v":-3,"x":102.75,"y":128},
{"s":"d","v":-4,"x":105.5,"y":54},{"s":"d","v":-4,"x":107.75,"y":42},{"s":"d","v":-4,"x":110.25,"y":21},{"s":"d","v":-4,"x":115,"y":20},{"s":"d","v":-4,"x":115,"y":185},{"s":"d","v":-4,"x":110.75,"y":187},{"s":"d","v":-4,"x":109,"y":160},{"s":"d","v":-4,"x":106.5,"y":173},{"s":"d","v":-4,"x":106,"y":124},
{"s":"e","v":-5,"x":106.25,"y":62},{"s":"e","v":-5,"x":108.25,"y":58},{"s":"e","v":-5,"x":110.75,"y":25},{"s":"e","v":-5,"x":115,"y":22},{"s":"e","v":-5,"x":115,"y":155},{"s":"e","v":-5,"x":111.25,"y":152},{"s":"e","v":-5,"x":108.25,"y":140},{"s":"e","v":-5,"x":106.5,"y":132},
{"s":"f","v":1,"x":63.65,"y":10},{"s":"f","v":1,"x":72.75,"y":10},{"s":"f","v":1,"x":73.25,"y":29},{"s":"f","v":1,"x":75.75,"y":42},{"s":"f","v":1,"x":79.25,"y":48},{"s":"f","v":1,"x":82.75,"y":58},{"s":"f","v":1,"x":86.25,"y":75},{"s":"f","v":1,"x":89.25,"y":79},{"s":"f","v":1,"x":91.75,"y":99},{"s":"f","v":1,"x":91.5,"y":132},{"s":"f","v":1,"x":90,"y":157},{"s":"f","v":1,"x":89,"y":177},{"s":"f","v":1,"x":86.25,"y":218},{"s":"f","v":1,"x":84.25,"y":234},{"s":"f","v":1,"x":80.5,"y":239},{"s":"f","v":1,"x":77.75,"y":226},{"s":"f","v":1,"x":74.75,"y":210},{"s":"f","v":1,"x":70.5,"y":187},{"s":"f","v":1,"x":69.5,"y":173},{"s":"f","v":1,"x":67.75,"y":140},{"s":"f","v":1,"x":64.5,"y":124},{"s":"f","v":1,"x":65.75,"y":91},{"s":"f","v":1,"x":63.25,"y":62},{"s":"f","v":1,"x":62.75,"y":38},
{"s":"g","v":2,"x":65,"y":48},{"s":"g","v":2,"x":67.25,"y":38},{"s":"g","v":2,"x":70.75,"y":36},{"s":"g","v":2,"x":74.25,"y":42},{"s":"g","v":2,"x":76.25,"y":48},{"s":"g","v":2,"x":79.75,"y":54},{"s":"g","v":2,"x":82.25,"y":62},{"s":"g","v":2,"x":85,"y":79},{"s":"g","v":2,"x":88.5,"y":79},{"s":"g","v":2,"x":90,"y":99},{"s":"g","v":2,"x":90.25,"y":124},{"s":"g","v":2,"x":88.5,"y":153},{"s":"g","v":2,"x":86.25,"y":173},{"s":"g","v":2,"x":83.75,"y":193},{"s":"g","v":2,"x":80.5,"y":210},{"s":"g","v":2,"x":77.25,"y":185},{"s":"g","v":2,"x":74.75,"y":153},{"s":"g","v":2,"x":72,"y":128},{"s":"g","v":2,"x":69.25,"y":99},{"s":"g","v":2,"x":66.25,"y":71},
{"s":"i","v":3,"x":69,"y":52},{"s":"i","v":3,"x":73.25,"y":50},{"s":"i","v":3,"x":76.25,"y":56},{"s":"i","v":3,"x":79.75,"y":62},{"s":"i","v":3,"x":82.75,"y":79},{"s":"i","v":3,"x":85.75,"y":93},{"s":"i","v":3,"x":88.75,"y":107},{"s":"i","v":3,"x":88.75,"y":128},{"s":"i","v":3,"x":85.75,"y":144},{"s":"i","v":3,"x":82.25,"y":153},{"s":"i","v":3,"x":80,"y":173},{"s":"i","v":3,"x":76.75,"y":155},{"s":"i","v":3,"x":75.5,"y":128},{"s":"i","v":3,"x":73.25,"y":95},{"s":"i","v":3,"x":70.75,"y":75},
{"s":"j","v":4,"x":79.75,"y":79},{"s":"j","v":4,"x":83.25,"y":99},{"s":"j","v":4,"x":81.5,"y":124},{"s":"j","v":4,"x":80.25,"y":138},{"s":"j","v":4,"x":77.25,"y":136},{"s":"j","v":4,"x":77,"y":120},{"s":"j","v":4,"x":78.75,"y":101},
{"s":"k","v":5,"x":80.25,"y":89},{"s":"k","v":5,"x":82.25,"y":99},{"s":"k","v":5,"x":80.25,"y":122},{"s":"k","v":5,"x":78,"y":128},{"s":"k","v":5,"x":79,"y":105},
{"s":"l","v":6,"x":80.5,"y":97},{"s":"l","v":6,"x":81,"y":101},{"s":"l","v":6,"x":80.5,"y":105},{"s":"l","v":6,"x":80,"y":101}],
"l3":[
{"s":"28","x":56.3,"y":10},{"s":"28","x":60.8,"y":18},{"s":"28","x":62.5,"y":27},{"s":"28","x":65.8,"y":50},{"s":"28","x":72.5,"y":51},{"s":"28","x":74.5,"y":44},{"s":"28","x":75,"y":10},
{"s":"28b","x":80,"y":10},{"s":"28b","x":79.3,"y":46},{"s":"28b","x":80.5,"y":58},{"s":"28b","x":81.3,"y":48},{"s":"28b","x":80.5,"y":10},
{"s":"26","x":45,"y":50},{"s":"26","x":46.5,"y":38},{"s":"26","x":48.5,"y":33},{"s":"26","x":50.5,"y":30},{"s":"26","x":52.5,"y":33},{"s":"26","x":54.5,"y":44},{"s":"26","x":56.5,"y":55},{"s":"26","x":60.5,"y":57},{"s":"26","x":64.5,"y":61},{"s":"26","x":68.5,"y":68},{"s":"26","x":72.5,"y":75},{"s":"26","x":76.5,"y":79},{"s":"26","x":78.5,"y":93},{"s":"26","x":80.5,"y":108},{"s":"26","x":84.5,"y":101},{"s":"26","x":88.5,"y":100},{"s":"26","x":90.5,"y":85},{"s":"26","x":93,"y":68},{"s":"26","x":96,"y":62},{"s":"26","x":100.5,"y":68},{"s":"26","x":102.5,"y":48},{"s":"26","x":104.5,"y":52},{"s":"26","x":106.5,"y":32},{"s":"26","x":108.5,"y":27},{"s":"26","x":110.5,"y":15},{"s":"26","x":115,"y":14},
{"s":"24","x":45,"y":79},{"s":"24","x":46.5,"y":64},{"s":"24","x":48.5,"y":52},{"s":"24","x":50.5,"y":46},{"s":"24","x":52.5,"y":44},{"s":"24","x":54.5,"y":52},{"s":"24","x":56.5,"y":68},{"s":"24","x":60.5,"y":74},{"s":"24","x":64.5,"y":71},{"s":"24","x":70.5,"y":75},{"s":"24","x":74.5,"y":85},{"s":"24","x":76.5,"y":89},{"s":"24","x":78.5,"y":109},{"s":"24","x":80.5,"y":122},{"s":"24","x":82.5,"y":122},{"s":"24","x":88.5,"y":114},{"s":"24","x":90.5,"y":109},{"s":"24","x":92.5,"y":91},{"s":"24","x":96.5,"y":88},{"s":"24","x":100.5,"y":89},{"s":"24","x":102.5,"y":68},{"s":"24","x":104.5,"y":58},{"s":"24","x":106.5,"y":42},{"s":"24","x":108.5,"y":36},{"s":"24","x":110.5,"y":21},{"s":"24","x":115,"y":19},
{"s":"22","x":45,"y":99},{"s":"22","x":46.5,"y":85},{"s":"22","x":48.5,"y":75},{"s":"22","x":50.5,"y":62},{"s":"22","x":52.5,"y":61},{"s":"22","x":54.5,"y":68},{"s":"22","x":56.5,"y":81},{"s":"22","x":60.5,"y":92},{"s":"22","x":62.5,"y":87},{"s":"22","x":70.5,"y":84},{"s":"22","x":74.5,"y":93},{"s":"22","x":76.5,"y":99},{"s":"22","x":78.5,"y":122},{"s":"22","x":80.5,"y":138},{"s":"22","x":84.5,"y":135},{"s":"22","x":90.5,"y":128},{"s":"22","x":92.5,"y":112},{"s":"22","x":94.5,"y":109},{"s":"22","x":100.5,"y":116},{"s":"22","x":102.5,"y":91},{"s":"22","x":104.5,"y":81},{"s":"22","x":106.5,"y":50},{"s":"22","x":108.5,"y":48},{"s":"22","x":110.5,"y":36},{"s":"22","x":112.5,"y":30},{"s":"22","x":115,"y":27},
{"s":"20","x":45,"y":118},{"s":"20","x":46.5,"y":112},{"s":"20","x":48.5,"y":97},{"s":"20","x":50.5,"y":79},{"s":"20","x":52.5,"y":74},{"s":"20","x":54.5,"y":81},{"s":"20","x":56.5,"y":93},{"s":"20","x":58.5,"y":99},{"s":"20","x":60.5,"y":107},{"s":"20","x":62.5,"y":103},{"s":"20","x":66.5,"y":97},{"s":"20","x":68.5,"y":96},{"s":"20","x":70.5,"y":101},{"s":"20","x":72.5,"y":109},{"s":"20","x":74.5,"y":122},{"s":"20","x":76.5,"y":140},{"s":"20","x":78.5,"y":148},{"s":"20","x":80.5,"y":156},{"s":"20","x":82.5,"y":150},{"s":"20","x":88.5,"y":146},{"s":"20","x":90.5,"y":140},{"s":"20","x":92.5,"y":132},{"s":"20","x":98.5,"y":128},{"s":"20","x":100.5,"y":136},{"s":"20","x":102.5,"y":120},{"s":"20","x":104.5,"y":105},{"s":"20","x":106.5,"y":71},{"s":"20","x":108.5,"y":79},{"s":"20","x":110.5,"y":52},{"s":"20","x":112.5,"y":48},{"s":"20","x":115,"y":42},
{"s":"18","x":45,"y":142},{"s":"18","x":46.5,"y":132},{"s":"18","x":48.5,"y":122},{"s":"18","x":50.5,"y":109},{"s":"18","x":52.5,"y":97},{"s":"18","x":54.5,"y":109},{"s":"18","x":56.5,"y":117},{"s":"18","x":60.5,"y":122},{"s":"18","x":64.5,"y":126},{"s":"18","x":66.5,"y":120},{"s":"18","x":70.5,"y":130},{"s":"18","x":74.5,"y":142},{"s":"18","x":76.5,"y":165},{"s":"18","x":78.5,"y":175},{"s":"18","x":80.5,"y":180},{"s":"18","x":82.5,"y":173},{"s":"18","x":84.5,"y":169},{"s":"18","x":88.5,"y":165},{"s":"18","x":90.5,"y":159},{"s":"18","x":92.5,"y":150},{"s":"18","x":96.5,"y":148},{"s":"18","x":100.5,"y":153},{"s":"18","x":102.5,"y":132},{"s":"18","x":104.5,"y":120},{"s":"18","x":106.5,"y":87},{"s":"18","x":108.5,"y":103},{"s":"18","x":110.5,"y":69},{"s":"18","x":112.5,"y":68},{"s":"18","x":115,"y":66},
{"s":"16","x":45,"y":179},{"s":"16","x":46.5,"y":167},{"s":"16","x":48.5,"y":148},{"s":"16","x":50.5,"y":142},{"s":"16","x":53,"y":133},{"s":"16","x":56,"y":140},{"s":"16","x":58.5,"y":150},{"s":"16","x":60.5,"y":157},{"s":"16","x":62.5,"y":159},{"s":"16","x":64.5,"y":156},{"s":"16","x":66.5,"y":146},{"s":"16","x":68.5,"y":155},{"s":"16","x":70.5,"y":165},{"s":"16","x":74.5,"y":175},{"s":"16","x":76.5,"y":189},{"s":"16","x":78.5,"y":198},{"s":"16","x":80.5,"y":205},{"s":"16","x":82.5,"y":196},{"s":"16","x":84.5,"y":191},{"s":"16","x":88.5,"y":185},{"s":"16","x":90.5,"y":177},{"s":"16","x":92.5,"y":173},{"s":"16","x":96.5,"y":175},{"s":"16","x":100.5,"y":178},{"s":"16","x":102.5,"y":163},{"s":"16","x":104.5,"y":136},{"s":"16","x":106.5,"y":105},{"s":"16","x":108.5,"y":116},{"s":"16","x":110.5,"y":89},{"s":"16","x":112.5,"y":87},{"s":"16","x":115,"y":89},
{"s":"14","x":45,"y":228},{"s":"14","x":46.5,"y":218},{"s":"14","x":48.5,"y":198},{"s":"14","x":50.5,"y":195},{"s":"14","x":53,"y":189},{"s":"14","x":56,"y":193},{"s":"14","x":58.5,"y":206},{"s":"14","x":60.5,"y":208},{"s":"14","x":62.5,"y":200},{"s":"14","x":66.5,"y":189},{"s":"14","x":68.5,"y":196},{"s":"14","x":70.5,"y":207},{"s":"14","x":74.5,"y":214},{"s":"14","x":76.5,"y":224},{"s":"14","x":78.5,"y":232},{"s":"14","x":80.5,"y":235},{"s":"14","x":84.5,"y":222},{"s":"14","x":88.5,"y":213},{"s":"14","x":90.5,"y":204},{"s":"14","x":93,"y":199},{"s":"14","x":96,"y":202},{"s":"14","x":100.5,"y":204},{"s":"14","x":102.5,"y":191},{"s":"14","x":104.5,"y":183},{"s":"14","x":106.5,"y":138},{"s":"14","x":108.5,"y":146},{"s":"14","x":110.5,"y":120},{"s":"14","x":112.5,"y":107},{"s":"14","x":115,"y":118},
{"s":"12a","x":47,"y":298},{"s":"12a","x":48.5,"y":292},{"s":"12a","x":52.5,"y":283},{"s":"12a","x":54.5,"y":276},{"s":"12a","x":56.5,"y":271},{"s":"12a","x":60.5,"y":282},{"s":"12a","x":62.5,"y":269},{"s":"12a","x":63.5,"y":280},{"s":"12a","x":64.3,"y":300},
{"s":"12b","x":69.5,"y":300},{"s":"12b","x":70.5,"y":285},{"s":"12b","x":72.5,"y":284},{"s":"12b","x":74.5,"y":279},{"s":"12b","x":76.3,"y":300},
{"s":"12c","x":80.2,"y":297},{"s":"12c","x":82.5,"y":297},{"s":"12c","x":84.5,"y":288},{"s":"12c","x":86.5,"y":273},{"s":"12c","x":88.5,"y":265},{"s":"12c","x":90.5,"y":259},{"s":"12c","x":92.5,"y":248},{"s":"12c","x":100.5,"y":247},{"s":"12c","x":102.5,"y":234},{"s":"12c","x":104.5,"y":226},{"s":"12c","x":106.5,"y":183},{"s":"12c","x":108.5,"y":194},{"s":"12c","x":110.5,"y":158},{"s":"12c","x":112.5,"y":140},{"s":"12c","x":115,"y":156},
{"s":"10","x":109,"y":298},{"s":"10","x":110.5,"y":261},{"s":"10","x":112.5,"y":261},{"s":"10","x":115,"y":276}],
"f4":[
{"s":"a","v":-2,"x":100.25,"y":70},{"s":"a","v":-2,"x":102.5,"y":51},{"s":"a","v":-2,"x":104.5,"y":74},{"s":"a","v":-2,"x":105.5,"y":41},{"s":"a","v":-2,"x":108.25,"y":14},{"s":"a","v":-2,"x":115,"y":14},{"s":"a","v":-2,"x":115,"y":222},{"s":"a","v":-2,"x":113,"y":234},{"s":"a","v":-2,"x":110.75,"y":236},{"s":"a","v":-2,"x":108,"y":223},{"s":"a","v":-2,"x":104.5,"y":203},{"s":"a","v":-2,"x":103.25,"y":209},{"s":"a","v":-2,"x":102.5,"y":225},{"s":"a","v":-2,"x":101.25,"y":201},{"s":"a","v":-2,"x":101.25,"y":123},
{"s":"b","v":-3,"x":101.25,"y":86},{"s":"b","v":-3,"x":102.5,"y":74},{"s":"b","v":-3,"x":103.75,"y":98},{"s":"b","v":-3,"x":105,"y":66},{"s":"b","v":-3,"x":106.5,"y":37},{"s":"b","v":-3,"x":108.5,"y":18},{"s":"b","v":-3,"x":112.5,"y":21},{"s":"b","v":-3,"x":115,"y":49},{"s":"b","v":-3,"x":115,"y":175},{"s":"b","v":-3,"x":112.5,"y":185},{"s":"b","v":-3,"x":110.75,"y":193},{"s":"b","v":-3,"x":108.25,"y":176},{"s":"b","v":-3,"x":107,"y":148},{"s":"b","v":-3,"x":104,"y":107},{"s":"b","v":-3,"x":101.5,"y":123},
{"s":"c","v":-4,"x":107,"y":57},{"s":"c","v":-4,"x":108.5,"y":29},{"s":"c","v":-4,"x":112.25,"y":29},{"s":"c","v":-4,"x":115,"y":49},{"s":"c","v":-4,"x":115,"y":145},{"s":"c","v":-4,"x":112.5,"y":141},{"s":"c","v":-4,"x":110.75,"y":160},{"s":"c","v":-4,"x":108.25,"y":144},{"s":"c","v":-4,"x":107.25,"y":119},
{"s":"d","v":-5,"x":107.5,"y":66},{"s":"d","v":-5,"x":108.75,"y":37},{"s":"d","v":-5,"x":112.25,"y":33},{"s":"d","v":-5,"x":114,"y":53},{"s":"d","v":-5,"x":113,"y":103},{"s":"d","v":-5,"x":112.5,"y":131},{"s":"d","v":-5,"x":110.75,"y":139},{"s":"d","v":-5,"x":108.25,"y":119},{"s":"d","v":-5,"x":107.25,"y":90},
{"s":"e","v":1,"x":49.25,"y":50},{"s":"e","v":1,"x":54.5,"y":40},{"s":"e","v":1,"x":56.25,"y":28},{"s":"e","v":1,"x":58.5,"y":33},{"s":"e","v":1,"x":60.25,"y":25},{"s":"e","v":1,"x":68.25,"y":18},{"s":"e","v":1,"x":74.25,"y":31},{"s":"e","v":1,"x":79.25,"y":35},{"s":"e","v":1,"x":80.75,"y":45},{"s":"e","v":1,"x":90.5,"y":59},{"s":"e","v":1,"x":92.75,"y":78},{"s":"e","v":1,"x":94.15,"y":98},{"s":"e","v":1,"x":93.75,"y":150},{"s":"e","v":1,"x":92.5,"y":153},{"s":"e","v":1,"x":90.25,"y":158},{"s":"e","v":1,"x":87.75,"y":178},{"s":"e","v":1,"x":84.5,"y":191},{"s":"e","v":1,"x":82.25,"y":205},{"s":"e","v":1,"x":78.5,"y":244},{"s":"e","v":1,"x":76.5,"y":248},{"s":"e","v":1,"x":74,"y":205},{"s":"e","v":1,"x":70.5,"y":176},{"s":"e","v":1,"x":69.5,"y":201},{"s":"e","v":1,"x":69,"y":201},{"s":"e","v":1,"x":69.85,"y":250},{"s":"e","v":1,"x":68.5,"y":263},{"s":"e","v":1,"x":67.15,"y":248},{"s":"e","v":1,"x":67.85,"y":201},{"s":"e","v":1,"x":65.75,"y":193},{"s":"e","v":1,"x":63.75,"y":197},{"s":"e","v":1,"x":62.5,"y":228},{"s":"e","v":1,"x":60.5,"y":244},{"s":"e","v":1,"x":58.5,"y":251},{"s":"e","v":1,"x":57.25,"y":193},{"s":"e","v":1,"x":56.5,"y":148},{"s":"e","v":1,"x":56.5,"y":94},{"s":"e","v":1,"x":52.75,"y":78},{"s":"e","v":1,"x":51.25,"y":73},
{"s":"f","v":2,"x":58.75,"y":66},{"s":"f","v":2,"x":59.5,"y":45},{"s":"f","v":2,"x":64.25,"y":31},{"s":"f","v":2,"x":68.75,"y":31},{"s":"f","v":2,"x":74.75,"y":39},{"s":"f","v":2,"x":79.25,"y":43},{"s":"f","v":2,"x":81.25,"y":49},{"s":"f","v":2,"x":86.25,"y":59},{"s":"f","v":2,"x":90.5,"y":70},{"s":"f","v":2,"x":92.75,"y":88},{"s":"f","v":2,"x":92.5,"y":107},{"s":"f","v":2,"x":91.25,"y":135},{"s":"f","v":2,"x":86.25,"y":141},{"s":"f","v":2,"x":82,"y":154},{"s":"f","v":2,"x":79.25,"y":185},{"s":"f","v":2,"x":76.5,"y":211},{"s":"f","v":2,"x":74.25,"y":172},{"s":"f","v":2,"x":72.5,"y":127},{"s":"f","v":2,"x":70.5,"y":117},{"s":"f","v":2,"x":68.25,"y":137},{"s":"f","v":2,"x":66.25,"y":137},{"s":"f","v":2,"x":62.25,"y":164},{"s":"f","v":2,"x":58.75,"y":170},{"s":"f","v":2,"x":58.75,"y":123},
{"s":"g","v":3,"x":60.75,"y":57},{"s":"g","v":3,"x":64.25,"y":39},{"s":"g","v":3,"x":68.75,"y":39},{"s":"g","v":3,"x":75.75,"y":49},{"s":"g","v":3,"x":80,"y":53},{"s":"g","v":3,"x":86.25,"y":72},{"s":"g","v":3,"x":90.5,"y":94},{"s":"g","v":3,"x":89.75,"y":107},{"s":"g","v":3,"x":86.25,"y":123},{"s":"g","v":3,"x":81.25,"y":135},{"s":"g","v":3,"x":79.25,"y":164},{"s":"g","v":3,"x":76.75,"y":185},{"s":"g","v":3,"x":74.75,"y":164},{"s":"g","v":3,"x":72.25,"y":111},{"s":"g","v":3,"x":68.25,"y":102},{"s":"g","v":3,"x":61.25,"y":94},
{"s":"i","v":4,"x":61.75,"y":62},{"s":"i","v":4,"x":65,"y":47},{"s":"i","v":4,"x":69.25,"y":47},{"s":"i","v":4,"x":74.75,"y":57},{"s":"i","v":4,"x":78.5,"y":64},{"s":"i","v":4,"x":81.5,"y":88},{"s":"i","v":4,"x":86.25,"y":94},{"s":"i","v":4,"x":86.75,"y":100},{"s":"i","v":4,"x":83.75,"y":111},{"s":"i","v":4,"x":80.25,"y":123},{"s":"i","v":4,"x":78.25,"y":148},{"s":"i","v":4,"x":76.75,"y":158},{"s":"i","v":4,"x":74.75,"y":131},{"s":"i","v":4,"x":72.25,"y":90},{"s":"i","v":4,"x":66.25,"y":88},{"s":"i","v":4,"x":63,"y":78},
{"s":"j","v":5,"x":64.25,"y":74},{"s":"j","v":5,"x":65,"y":53},{"s":"j","v":5,"x":68.25,"y":49},{"s":"j","v":5,"x":71.25,"y":53},{"s":"j","v":5,"x":73.25,"y":70},{"s":"j","v":5,"x":75.75,"y":61},{"s":"j","v":5,"x":78.25,"y":78},{"s":"j","v":5,"x":80.25,"y":103},{"s":"j","v":5,"x":78.25,"y":139},{"s":"j","v":5,"x":76.75,"y":148},{"s":"j","v":5,"x":75.25,"y":115},{"s":"j","v":5,"x":72.25,"y":78},{"s":"j","v":5,"x":66.75,"y":80},
{"s":"k","v":6,"x":64.25,"y":72},{"s":"k","v":6,"x":65.75,"y":70},{"s":"k","v":6,"x":68.25,"y":80},{"s":"k","v":6,"x":65.75,"y":78},
{"s":"l","v":6,"x":76.5,"y":78},{"s":"l","v":6,"x":78.25,"y":88},{"s":"l","v":6,"x":79.25,"y":107},{"s":"l","v":6,"x":77.75,"y":125},{"s":"l","v":6,"x":76.5,"y":115},{"s":"l","v":6,"x":75.75,"y":90},
{"s":"m","v":7,"x":76.75,"y":86},{"s":"m","v":7,"x":78,"y":98},{"s":"m","v":7,"x":77.25,"y":109},{"s":"m","v":7,"x":76.25,"y":98}],
"l4":[
{"s":"28","x":49.25,"y":11},{"s":"28","x":50.5,"y":18},{"s":"28","x":54.5,"y":29},{"s":"28","x":56.5,"y":35},{"s":"28","x":58.5,"y":35},{"s":"28","x":60.5,"y":44},{"s":"28","x":64.5,"y":36},{"s":"28","x":68.5,"y":66},{"s":"28","x":70.5,"y":64},{"s":"28","x":73.25,"y":51},{"s":"28","x":75.75,"y":70},{"s":"28","x":76.25,"y":105},{"s":"28","x":78.5,"y":107},{"s":"28","x":79.75,"y":90},{"s":"28","x":80.5,"y":57},{"s":"28","x":81.25,"y":43},{"s":"28","x":84.5,"y":27},{"s":"28","x":90,"y":18},{"s":"28","x":90.25,"y":10},
{"s":"28b","x":76.25,"y":10},{"s":"28b","x":76.7,"y":25},{"s":"28b","x":78.75,"y":20},{"s":"28b","x":78.5,"y":10},
{"s":"28c","x":97.5,"y":10},{"s":"28c","x":99,"y":29},{"s":"28c","x":104,"y":36},{"s":"28c","x":105,"y":18},{"s":"28c","x":106.25,"y":10},
{"s":"26","x":45,"y":52},{"s":"26","x":48.5,"y":52},{"s":"26","x":52.5,"y":55},{"s":"26","x":56.5,"y":53},{"s":"26","x":58.5,"y":55},{"s":"26","x":60.5,"y":64},{"s":"26","x":64.5,"y":61},{"s":"26","x":66.5,"y":70},{"s":"26","x":68.5,"y":76},{"s":"26","x":72.5,"y":74},{"s":"26","x":74.5,"y":90},{"s":"26","x":75.75,"y":115},{"s":"26","x":76.5,"y":121},{"s":"26","x":78.5,"y":115},{"s":"26","x":80.5,"y":105},{"s":"26","x":82.5,"y":96},{"s":"26","x":84.5,"y":93},{"s":"26","x":86.5,"y":86},{"s":"26","x":88.5,"y":82},{"s":"26","x":90.5,"y":81},{"s":"26","x":92.5,"y":74},{"s":"26","x":94.5,"y":66},{"s":"26","x":98.5,"y":64},{"s":"26","x":100.5,"y":55},{"s":"26","x":104.5,"y":51},{"s":"26","x":106.5,"y":31},{"s":"26","x":108.5,"y":21},{"s":"26","x":110.5,"y":20},{"s":"26","x":115,"y":23},
{"s":"24","x":45,"y":70},{"s":"24","x":48.5,"y":71},{"s":"24","x":52.5,"y":66},{"s":"24","x":56.5,"y":66},{"s":"24","x":58.5,"y":72},{"s":"24","x":60.5,"y":78},{"s":"24","x":62.5,"y":74},{"s":"24","x":64.5,"y":75},{"s":"24","x":66.5,"y":84},{"s":"24","x":68.5,"y":88},{"s":"24","x":72.5,"y":86},{"s":"24","x":74.5,"y":107},{"s":"24","x":76.5,"y":141},{"s":"24","x":78,"y":133},{"s":"24","x":80.5,"y":117},{"s":"24","x":82.5,"y":109},{"s":"24","x":86.5,"y":107},{"s":"24","x":88.5,"y":103},{"s":"24","x":92.5,"y":100},{"s":"24","x":94.5,"y":92},{"s":"24","x":96.5,"y":84},{"s":"24","x":98.5,"y":88},{"s":"24","x":100.5,"y":80},{"s":"24","x":102.5,"y":72},{"s":"24","x":104.5,"y":76},{"s":"24","x":106.5,"y":51},{"s":"24","x":108.5,"y":33},{"s":"24","x":110.5,"y":29},{"s":"24","x":112.5,"y":37},{"s":"24","x":115,"y":49},
{"s":"22","x":45,"y":88},{"s":"22","x":48.5,"y":86},{"s":"22","x":52.5,"y":80},{"s":"22","x":54.5,"y":78},{"s":"22","x":56.5,"y":80},{"s":"22","x":58.5,"y":88},{"s":"22","x":60.5,"y":91},{"s":"22","x":62.5,"y":88},{"s":"22","x":64.5,"y":92},{"s":"22","x":68.5,"y":98},{"s":"22","x":72.5,"y":96},{"s":"22","x":74.5,"y":119},{"s":"22","x":76.5,"y":150},{"s":"22","x":78,"y":144},{"s":"22","x":80.5,"y":131},{"s":"22","x":82.5,"y":125},{"s":"22","x":86.5,"y":121},{"s":"22","x":92.5,"y":117},{"s":"22","x":94.5,"y":111},{"s":"22","x":96.5,"y":105},{"s":"22","x":98.5,"y":109},{"s":"22","x":100.5,"y":103},{"s":"22","x":102.5,"y":84},{"s":"22","x":104.5,"y":98},{"s":"22","x":106.5,"y":70},{"s":"22","x":108.5,"y":47},{"s":"22","x":110.5,"y":39},{"s":"22","x":112.5,"y":53},{"s":"22","x":115,"y":68},
{"s":"20","x":45,"y":112},{"s":"20","x":48.5,"y":106},{"s":"20","x":50.5,"y":96},{"s":"20","x":52.5,"y":92},{"s":"20","x":54.5,"y":92},{"s":"20","x":56.5,"y":96},{"s":"20","x":58.5,"y":109},{"s":"20","x":62.5,"y":100},{"s":"20","x":64.5,"y":105},{"s":"20","x":66.5,"y":109},{"s":"20","x":68.5,"y":115},{"s":"20","x":70.5,"y":113},{"s":"20","x":72.5,"y":119},{"s":"20","x":74.5,"y":137},{"s":"20","x":76.5,"y":166},{"s":"20","x":78.5,"y":160},{"s":"20","x":80.5,"y":150},{"s":"20","x":82.5,"y":141},{"s":"20","x":86.5,"y":137},{"s":"20","x":92.5,"y":133},{"s":"20","x":94.5,"y":127},{"s":"20","x":96.5,"y":123},{"s":"20","x":100.5,"y":119},{"s":"20","x":102.5,"y":103},{"s":"20","x":104.5,"y":115},{"s":"20","x":106.5,"y":92},{"s":"20","x":108.5,"y":66},{"s":"20","x":110.5,"y":59},{"s":"20","x":112.5,"y":70},{"s":"20","x":115,"y":96},
{"s":"18","x":45,"y":139},{"s":"18","x":48.5,"y":131},{"s":"18","x":50.5,"y":117},{"s":"18","x":52.5,"y":111},{"s":"18","x":54.5,"y":112},{"s":"18","x":56.5,"y":125},{"s":"18","x":58.5,"y":139},{"s":"18","x":60.8,"y":131},{"s":"18","x":62.5,"y":124},{"s":"18","x":64.5,"y":122},{"s":"18","x":66.5,"y":125},{"s":"18","x":68.5,"y":134},{"s":"18","x":70.5,"y":132},{"s":"18","x":72.5,"y":144},{"s":"18","x":74.5,"y":164},{"s":"18","x":76.5,"y":185},{"s":"18","x":78.5,"y":176},{"s":"18","x":80.5,"y":166},{"s":"18","x":82.5,"y":160},{"s":"18","x":86.5,"y":154},{"s":"18","x":88.5,"y":152},{"s":"18","x":92.5,"y":153},{"s":"18","x":96.5,"y":144},{"s":"18","x":100.5,"y":141},{"s":"18","x":102.5,"y":122},{"s":"18","x":104.5,"y":131},{"s":"18","x":106.5,"y":107},{"s":"18","x":108.5,"y":92},{"s":"18","x":110.5,"y":78},{"s":"18","x":112.5,"y":98},{"s":"18","x":115,"y":123},
{"s":"16","x":45,"y":180},{"s":"16","x":48.5,"y":173},{"s":"16","x":50.5,"y":158},{"s":"16","x":51.5,"y":144},{"s":"16","x":54,"y":141},{"s":"16","x":56.5,"y":158},{"s":"16","x":58.5,"y":174},{"s":"16","x":60.5,"y":164},{"s":"16","x":64.5,"y":152},{"s":"16","x":66.5,"y":154},{"s":"16","x":68.5,"y":165},{"s":"16","x":70.5,"y":162},{"s":"16","x":72.5,"y":172},{"s":"16","x":74.5,"y":185},{"s":"16","x":76.5,"y":201},{"s":"16","x":78.5,"y":197},{"s":"16","x":80.5,"y":189},{"s":"16","x":82.5,"y":180},{"s":"16","x":86.5,"y":175},{"s":"16","x":90.5,"y":177},{"s":"16","x":94.5,"y":172},{"s":"16","x":98.5,"y":170},{"s":"16","x":100.5,"y":164},{"s":"16","x":102.5,"y":141},{"s":"16","x":104.5,"y":148},{"s":"16","x":106.5,"y":141},{"s":"16","x":108.5,"y":129},{"s":"16","x":110.5,"y":107},{"s":"16","x":112.5,"y":107},{"s":"16","x":115,"y":135},
{"s":"14","x":45,"y":240},{"s":"14","x":46.8,"y":242},{"s":"14","x":48.5,"y":237},{"s":"14","x":50.5,"y":211},{"s":"14","x":51.5,"y":195},{"s":"14","x":54,"y":189},{"s":"14","x":56.5,"y":201},{"s":"14","x":58.5,"y":219},{"s":"14","x":60.5,"y":197},{"s":"14","x":62.5,"y":193},{"s":"14","x":64.5,"y":193},{"s":"14","x":66.5,"y":201},{"s":"14","x":68.5,"y":225},{"s":"14","x":70.5,"y":207},{"s":"14","x":72.5,"y":207},{"s":"14","x":74.5,"y":223},{"s":"14","x":76.5,"y":240},{"s":"14","x":78.5,"y":237},{"s":"14","x":80.5,"y":226},{"s":"14","x":84.5,"y":209},{"s":"14","x":86.5,"y":199},{"s":"14","x":88.5,"y":207},{"s":"14","x":90.5,"y":208},{"s":"14","x":94.5,"y":205},{"s":"14","x":98.5,"y":195},{"s":"14","x":100.5,"y":189},{"s":"14","x":102.5,"y":167},{"s":"14","x":104.5,"y":176},{"s":"14","x":108.5,"y":160},{"s":"14","x":110.5,"y":144},{"s":"14","x":112.5,"y":144},{"s":"14","x":115,"y":172},
{"s":"12a","x":52.5,"y":295},{"s":"12a","x":54.5,"y":291},{"s":"12a","x":56.3,"y":299},
{"s":"12b","x":58.5,"y":299},{"s":"12b","x":60.5,"y":282},{"s":"12b","x":64.5,"y":273},{"s":"12b","x":66.5,"y":290},{"s":"12b","x":68.5,"y":291},{"s":"12b","x":70.5,"y":296},{"s":"12b","x":72.5,"y":294},{"s":"12b","x":74.5,"y":295},{"s":"12b","x":75,"y":300},
{"s":"12c","x":78,"y":300},{"s":"12c","x":80.5,"y":285},{"s":"12c","x":84.5,"y":266},{"s":"12c","x":86.5,"y":253},{"s":"12c","x":88.5,"y":258},{"s":"12c","x":90.5,"y":260},{"s":"12c","x":94.5,"y":258},{"s":"12c","x":96.5,"y":254},{"s":"12c","x":98.5,"y":240},{"s":"12c","x":100.5,"y":235},{"s":"12c","x":102.5,"y":196},{"s":"12c","x":103.8,"y":197},{"s":"12c","x":104.5,"y":219},{"s":"12c","x":108.5,"y":199},{"s":"12c","x":110.5,"y":192},{"s":"12c","x":112.5,"y":196},{"s":"12c","x":115,"y":221},
{"s":"10","x":110,"y":300},{"s":"10","x":110.5,"y":290},{"s":"10","x":112.5,"y":298}],
"f5":[
{"s":"a","v":-2,"x":94.5,"y":73},{"s":"a","v":-2,"x":100.5,"y":54},{"s":"a","v":-2,"x":106.25,"y":34},{"s":"a","v":-2,"x":115,"y":25},{"s":"a","v":-2,"x":115,"y":214},{"s":"a","v":-2,"x":112.5,"y":192},{"s":"a","v":-2,"x":110.5,"y":163},{"s":"a","v":-2,"x":108.5,"y":146},{"s":"a","v":-2,"x":106.25,"y":170},{"s":"a","v":-2,"x":104.5,"y":175},{"s":"a","v":-2,"x":102.5,"y":157},{"s":"a","v":-2,"x":102.25,"y":133},{"s":"a","v":-2,"x":100.5,"y":132},{"s":"a","v":-2,"x":98.25,"y":148},{"s":"a","v":-2,"x":96.5,"y":170},{"s":"a","v":-2,"x":95.75,"y":141},{"s":"a","v":-2,"x":94,"y":103},
{"s":"b","v":-3,"x":95.75,"y":76},{"s":"b","v":-3,"x":100.5,"y":61},{"s":"b","v":-3,"x":106.25,"y":40},{"s":"b","v":-3,"x":115,"y":36},{"s":"b","v":-3,"x":115,"y":118},{"s":"b","v":-3,"x":112.5,"y":125},{"s":"b","v":-3,"x":104.5,"y":129},{"s":"b","v":-3,"x":100.5,"y":122},{"s":"b","v":-3,"x":96.25,"y":118},{"s":"b","v":-3,"x":94.75,"y":97},
{"s":"c","v":-4,"x":103.25,"y":97},{"s":"c","v":-4,"x":105.25,"y":75},{"s":"c","v":-4,"x":110.25,"y":56},{"s":"c","v":-4,"x":115,"y":52},{"s":"c","v":-4,"x":115,"y":101},{"s":"c","v":-4,"x":112.5,"y":99},{"s":"c","v":-4,"x":106.5,"y":95},{"s":"c","v":-4,"x":103.75,"y":108},
{"s":"d","v":-5,"x":113,"y":77},{"s":"d","v":-5,"x":115,"y":73},{"s":"d","v":-5,"x":115,"y":98},{"s":"d","v":-5,"x":113,"y":91},
{"s":"e","v":1,"x":51.25,"y":50},{"s":"e","v":1,"x":53.5,"y":36},{"s":"e","v":1,"x":56.5,"y":28},{"s":"e","v":1,"x":59.5,"y":10},{"s":"e","v":1,"x":70.5,"y":10},{"s":"e","v":1,"x":72.25,"y":24},{"s":"e","v":1,"x":78.75,"y":24},{"s":"e","v":1,"x":81.25,"y":40},{"s":"e","v":1,"x":86.5,"y":46},{"s":"e","v":1,"x":90.5,"y":73},{"s":"e","v":1,"x":90.85,"y":138},{"s":"e","v":1,"x":90.5,"y":167},{"s":"e","v":1,"x":88.5,"y":188},{"s":"e","v":1,"x":86.5,"y":183},{"s":"e","v":1,"x":84.5,"y":181},{"s":"e","v":1,"x":80.5,"y":183},{"s":"e","v":1,"x":74.5,"y":192},{"s":"e","v":1,"x":70.75,"y":177},{"s":"e","v":1,"x":69.25,"y":200},{"s":"e","v":1,"x":68.25,"y":228},{"s":"e","v":1,"x":66.5,"y":259},{"s":"e","v":1,"x":64.5,"y":258},{"s":"e","v":1,"x":62.5,"y":295},{"s":"e","v":1,"x":59.75,"y":300},{"s":"e","v":1,"x":57.65,"y":300},{"s":"e","v":1,"x":57.4,"y":249},{"s":"e","v":1,"x":59,"y":183},{"s":"e","v":1,"x":59,"y":146},{"s":"e","v":1,"x":55,"y":126},{"s":"e","v":1,"x":57,"y":93},
{"s":"f","v":1,"x":53.25,"y":300},{"s":"f","v":1,"x":53.75,"y":245},{"s":"f","v":1,"x":54.5,"y":225},{"s":"f","v":1,"x":55.25,"y":245},{"s":"f","v":1,"x":55.85,"y":300},
{"s":"g","v":2,"x":56,"y":75},{"s":"g","v":2,"x":59.75,"y":38},{"s":"g","v":2,"x":64.25,"y":24},{"s":"g","v":2,"x":68.25,"y":22},{"s":"g","v":2,"x":71.25,"y":32},{"s":"g","v":2,"x":78.75,"y":44},{"s":"g","v":2,"x":82,"y":50},{"s":"g","v":2,"x":86.5,"y":70},{"s":"g","v":2,"x":88,"y":97},{"s":"g","v":2,"x":88,"y":122},{"s":"g","v":2,"x":84.25,"y":143},{"s":"g","v":2,"x":74.5,"y":151},{"s":"g","v":2,"x":71.25,"y":180},{"s":"g","v":2,"x":66.5,"y":187},{"s":"g","v":2,"x":62.5,"y":176},{"s":"g","v":2,"x":61.25,"y":142},{"s":"g","v":2,"x":57.25,"y":130},{"s":"g","v":2,"x":57.75,"y":97},
{"s":"i","v":3,"x":57,"y":62},{"s":"i","v":3,"x":61.25,"y":34},{"s":"i","v":3,"x":67.25,"y":26},{"s":"i","v":3,"x":74.5,"y":48},{"s":"i","v":3,"x":80.25,"y":52},{"s":"i","v":3,"x":85,"y":73},{"s":"i","v":3,"x":85.75,"y":101},{"s":"i","v":3,"x":81.25,"y":125},{"s":"i","v":3,"x":74.25,"y":140},{"s":"i","v":3,"x":67.25,"y":146},{"s":"i","v":3,"x":62.5,"y":133},{"s":"i","v":3,"x":58.25,"y":120},{"s":"i","v":3,"x":58.25,"y":75},
{"s":"j","v":4,"x":58.25,"y":61},{"s":"j","v":4,"x":61.75,"y":38},{"s":"j","v":4,"x":67.25,"y":32},{"s":"j","v":4,"x":73.25,"y":53},{"s":"j","v":4,"x":80.25,"y":71},{"s":"j","v":4,"x":81.5,"y":97},{"s":"j","v":4,"x":76.25,"y":122},{"s":"j","v":4,"x":68.25,"y":123},{"s":"j","v":4,"x":61.25,"y":114},{"s":"j","v":4,"x":58.75,"y":90},
{"s":"k","v":5,"x":59.5,"y":61},{"s":"k","v":5,"x":62,"y":43},{"s":"k","v":5,"x":67.25,"y":37},{"s":"k","v":5,"x":71.75,"y":56},{"s":"k","v":5,"x":78.75,"y":71},{"s":"k","v":5,"x":81.25,"y":97},{"s":"k","v":5,"x":74.75,"y":106},{"s":"k","v":5,"x":68.25,"y":108},{"s":"k","v":5,"x":62.25,"y":102},{"s":"k","v":5,"x":60.25,"y":85},
{"s":"l","v":6,"x":61.5,"y":70},{"s":"l","v":6,"x":63.75,"y":54},{"s":"l","v":6,"x":67.25,"y":53},{"s":"l","v":6,"x":69.5,"y":73},{"s":"l","v":6,"x":67.25,"y":89},{"s":"l","v":6,"x":64.25,"y":87},
{"s":"m","v":6,"x":74.5,"y":89},{"s":"m","v":6,"x":78.25,"y":97},{"s":"m","v":6,"x":76.25,"y":104},{"s":"m","v":6,"x":75,"y":100},
{"s":"n","v":7,"x":64.25,"y":73},{"s":"n","v":7,"x":66.25,"y":71},{"s":"n","v":7,"x":67,"y":75},{"s":"n","v":7,"x":65,"y":77}],
"l5":[
{"s":"28","x":45,"y":31},{"s":"28","x":50.5,"y":24},{"s":"28","x":52.5,"y":32},{"s":"28","x":56.5,"y":28},{"s":"28","x":60.5,"y":32},{"s":"28","x":62.5,"y":38},{"s":"28","x":65.5,"y":50},{"s":"28","x":68.5,"y":58},{"s":"28","x":70.5,"y":56},{"s":"28","x":72.5,"y":75},{"s":"28","x":76.5,"y":79},{"s":"28","x":78.5,"y":85},{"s":"28","x":80.25,"y":75},{"s":"28","x":82.5,"y":49},{"s":"28","x":84.5,"y":51},{"s":"28","x":86.5,"y":48},{"s":"28","x":88.5,"y":28},{"s":"28","x":90.5,"y":23},{"s":"28","x":94.5,"y":24},{"s":"28","x":96.5,"y":28},{"s":"28","x":100.5,"y":36},{"s":"28","x":104.5,"y":28},{"s":"28","x":106.5,"y":23},{"s":"28","x":115,"y":21},
{"s":"26","x":45,"y":58},{"s":"26","x":50.5,"y":48},{"s":"26","x":52.5,"y":51},{"s":"26","x":54.5,"y":51},{"s":"26","x":56.5,"y":45},{"s":"26","x":60.5,"y":49},{"s":"26","x":62.5,"y":58},{"s":"26","x":64.5,"y":66},{"s":"26","x":66.5,"y":77},{"s":"26","x":70.5,"y":79},{"s":"26","x":72.5,"y":89},{"s":"26","x":74.5,"y":97},{"s":"26","x":76.75,"y":101},{"s":"26","x":80.5,"y":103},{"s":"26","x":82.5,"y":99},{"s":"26","x":84.5,"y":86},{"s":"26","x":86.5,"y":84},{"s":"26","x":88.5,"y":69},{"s":"26","x":90.5,"y":58},{"s":"26","x":92.5,"y":50},{"s":"26","x":94.5,"y":48},{"s":"26","x":100.5,"y":54},{"s":"26","x":104.5,"y":42},{"s":"26","x":108.5,"y":36},{"s":"26","x":115,"y":38},
{"s":"24","x":45,"y":77},{"s":"24","x":50.5,"y":61},{"s":"24","x":54.5,"y":63},{"s":"24","x":56.5,"y":65},{"s":"24","x":58.5,"y":71},{"s":"24","x":60.5,"y":81},{"s":"24","x":62.5,"y":83},{"s":"24","x":64.5,"y":91},{"s":"24","x":68.5,"y":97},{"s":"24","x":70.5,"y":95},{"s":"24","x":72.5,"y":107},{"s":"24","x":74.5,"y":112},{"s":"24","x":80.5,"y":110},{"s":"24","x":84.5,"y":103},{"s":"24","x":86.5,"y":104},{"s":"24","x":88.5,"y":93},{"s":"24","x":90.5,"y":77},{"s":"24","x":92.5,"y":69},{"s":"24","x":96.5,"y":67},{"s":"24","x":100.5,"y":72},{"s":"24","x":102.5,"y":62},{"s":"24","x":106.5,"y":50},{"s":"24","x":115,"y":54},
{"s":"22","x":45,"y":97},{"s":"22","x":48.5,"y":85},{"s":"22","x":50.5,"y":73},{"s":"22","x":52.5,"y":73},{"s":"22","x":54.5,"y":77},{"s":"22","x":58.5,"y":93},{"s":"22","x":60.5,"y":95},{"s":"22","x":64.5,"y":104},{"s":"22","x":68.5,"y":110},{"s":"22","x":70.5,"y":105},{"s":"22","x":72.5,"y":118},{"s":"22","x":74.5,"y":121},{"s":"22","x":80.5,"y":120},{"s":"22","x":88,"y":116},{"s":"22","x":90.5,"y":97},{"s":"22","x":92.5,"y":87},{"s":"22","x":94.5,"y":81},{"s":"22","x":96.5,"y":79},{"s":"22","x":100.5,"y":87},{"s":"22","x":102.5,"y":79},{"s":"22","x":106.5,"y":71},{"s":"22","x":108.5,"y":73},{"s":"22","x":112.5,"y":75},{"s":"22","x":115,"y":69},
{"s":"20","x":45,"y":120},{"s":"20","x":48.5,"y":107},{"s":"20","x":50.5,"y":92},{"s":"20","x":52.5,"y":88},{"s":"20","x":54.5,"y":92},{"s":"20","x":56.5,"y":96},{"s":"20","x":58.5,"y":110},{"s":"20","x":60.5,"y":110},{"s":"20","x":64.5,"y":116},{"s":"20","x":66.5,"y":120},{"s":"20","x":70.5,"y":119},{"s":"20","x":72.5,"y":127},{"s":"20","x":74.5,"y":136},{"s":"20","x":80.5,"y":134},{"s":"20","x":88,"y":136},{"s":"20","x":90.5,"y":118},{"s":"20","x":92.5,"y":106},{"s":"20","x":94.5,"y":97},{"s":"20","x":96.5,"y":95},{"s":"20","x":100.5,"y":106},{"s":"20","x":102.5,"y":97},{"s":"20","x":104.5,"y":95},{"s":"20","x":106.5,"y":89},{"s":"20","x":108.5,"y":91},{"s":"20","x":112.5,"y":97},{"s":"20","x":115,"y":89},
{"s":"18","x":45,"y":144},{"s":"18","x":48.5,"y":131},{"s":"18","x":50.5,"y":117},{"s":"18","x":52.5,"y":113},{"s":"18","x":54.5,"y":120},{"s":"18","x":56.5,"y":128},{"s":"18","x":58.5,"y":128},{"s":"18","x":60.5,"y":124},{"s":"18","x":62.5,"y":130},{"s":"18","x":64.5,"y":138},{"s":"18","x":66.5,"y":146},{"s":"18","x":68.5,"y":138},{"s":"18","x":70.5,"y":138},{"s":"18","x":72.5,"y":146},{"s":"18","x":74.5,"y":153},{"s":"18","x":78.5,"y":154},{"s":"18","x":80.5,"y":151},{"s":"18","x":88,"y":157},{"s":"18","x":90.5,"y":140},{"s":"18","x":92.5,"y":128},{"s":"18","x":94.5,"y":122},{"s":"18","x":96.5,"y":116},{"s":"18","x":100.5,"y":130},{"s":"18","x":102.5,"y":120},{"s":"18","x":106.5,"y":112},{"s":"18","x":108.5,"y":114},{"s":"18","x":112.5,"y":125},{"s":"18","x":115,"y":116},
{"s":"16","x":45,"y":183},{"s":"16","x":48.5,"y":168},{"s":"16","x":50.5,"y":144},{"s":"16","x":52.5,"y":151},{"s":"16","x":54.5,"y":156},{"s":"16","x":55.5,"y":147},{"s":"16","x":58.5,"y":149},{"s":"16","x":60.5,"y":142},{"s":"16","x":62.5,"y":153},{"s":"16","x":64.5,"y":169},{"s":"16","x":66.5,"y":178},{"s":"16","x":68.5,"y":164},{"s":"16","x":70.5,"y":166},{"s":"16","x":72.5,"y":175},{"s":"16","x":74.5,"y":182},{"s":"16","x":80.5,"y":177},{"s":"16","x":88,"y":178},{"s":"16","x":90.5,"y":165},{"s":"16","x":92.5,"y":151},{"s":"16","x":94.5,"y":142},{"s":"16","x":96.5,"y":137},{"s":"16","x":100.5,"y":155},{"s":"16","x":102.5,"y":142},{"s":"16","x":104.5,"y":140},{"s":"16","x":108.5,"y":142},{"s":"16","x":112.5,"y":146},{"s":"16","x":115,"y":136},
{"s":"14","x":45,"y":230},{"s":"14","x":48.5,"y":224},{"s":"14","x":50.5,"y":209},{"s":"14","x":52.5,"y":213},{"s":"14","x":54.5,"y":220},{"s":"14","x":56.5,"y":206},{"s":"14","x":58.5,"y":213},{"s":"14","x":60.5,"y":182},{"s":"14","x":62.5,"y":194},{"s":"14","x":64.5,"y":212},{"s":"14","x":66.5,"y":224},{"s":"14","x":68.5,"y":212},{"s":"14","x":70.5,"y":206},{"s":"14","x":73.25,"y":214},{"s":"14","x":76.25,"y":214},{"s":"14","x":80.5,"y":206},{"s":"14","x":88.5,"y":202},{"s":"14","x":90.5,"y":196},{"s":"14","x":94.5,"y":179},{"s":"14","x":96.5,"y":169},{"s":"14","x":100.5,"y":183},{"s":"14","x":102.5,"y":175},{"s":"14","x":104.5,"y":171},{"s":"14","x":108.5,"y":171},{"s":"14","x":112.5,"y":174},{"s":"14","x":115,"y":160},
{"s":"12a","x":59.75,"y":300},{"s":"12a","x":60.5,"y":283},{"s":"12a","x":62.5,"y":283},{"s":"12a","x":64.75,"y":300},
{"s":"12b","x":67.25,"y":300},{"s":"12b","x":68.5,"y":278},{"s":"12b","x":70.5,"y":287},{"s":"12b","x":72,"y":300},
{"s":"12c","x":74.5,"y":300},{"s":"12c","x":76.5,"y":281},{"s":"12c","x":78.5,"y":276},{"s":"12c","x":80.5,"y":259},{"s":"12c","x":82.5,"y":254},{"s":"12c","x":86.5,"y":254},{"s":"12c","x":88.5,"y":250},{"s":"12c","x":92.5,"y":237},{"s":"12c","x":94.5,"y":233},{"s":"12c","x":96.5,"y":221},{"s":"12c","x":98.5,"y":221},{"s":"12c","x":100.5,"y":228},{"s":"12c","x":102.5,"y":213},{"s":"12c","x":106.5,"y":220},{"s":"12c","x":112.5,"y":210},{"s":"12c","x":115,"y":194},
{"s":"12d","x":112.25,"y":300},{"s":"12d","x":115,"y":286},
{"s":"12e","x":45,"y":296},{"s":"12e","x":46,"y":300}]
},
"vconcat":[
{"width":574,"height":236,"encoding":{"x":{"field":"x","type":"quantitative","scale":{"domain":[45,115],"nice":false,"zero":false},"axis":null},"y":{"field":"y","type":"quantitative","scale":{"domain":[10,300],"reverse":true,"nice":false,"zero":false},"axis":{"title":"SEP   2006"}}},
"layer":[{"data":{"name":"f1"},"mark":{"type":"line","clip":true,"stroke":null},"encoding":{"fill":{"field":"v","type":"ordinal","scale":{"domain":[-6,-5,-4,-3,-2,0,1,2,3,4,5,6,7],"range":["#8b2a8f","#6f2584","#304a9a","#2e8ed8","#379ccb","#fbffff","#3e9a44","#a6cb48","#d5ce44","#c9a440","#c08343","#bf5352","#c0107f"]},"legend":null},"detail":{"field":"s"},"order":{"value":null}}},
{"data":{"name":"h"},"mark":{"type":"rule","color":"#8db4dc","strokeWidth":1},"encoding":{"x2":{"field":"x2"}}},
{"data":{"name":"l1"},"transform":[{"filter":"datum.s!='20'"}],"mark":{"type":"line","clip":true,"color":"#111","strokeWidth":2.4},"encoding":{"detail":{"field":"s"},"order":{"value":null}}},
{"data":{"name":"l1"},"transform":[{"filter":"datum.s=='20'"}],"mark":{"type":"line","clip":true,"color":"#111","strokeWidth":6.5},"encoding":{"order":{"value":null}}},
{"data":{"name":"t1"},"mark":{"type":"square","size":420,"color":"white","opacity":1}},
{"data":{"name":"t1"},"mark":{"type":"text","font":"Liberation Sans","fontSize":19,"color":"#111","stroke":"#111","strokeWidth":0.4},"encoding":{"text":{"field":"t"}}},
{"data":{"name":"e"},"mark":{"type":"rule","color":"#1c1c1c","strokeWidth":3.5},"encoding":{"x2":{"field":"x2"}}},
{"data":{"name":"w"},"mark":{"type":"rule","color":"#1c1c1c","strokeWidth":3.5},"encoding":{"y2":{"field":"y2"}}}]},
{"width":574,"height":236,"encoding":{"x":{"field":"x","type":"quantitative","scale":{"domain":[45,115],"nice":false,"zero":false},"axis":null},"y":{"field":"y","type":"quantitative","scale":{"domain":[10,300],"reverse":true,"nice":false,"zero":false},"axis":{"title":"OCT   2006"}}},
"layer":[{"data":{"name":"f2"},"mark":{"type":"line","clip":true,"stroke":null},"encoding":{"fill":{"field":"v","type":"ordinal","scale":{"domain":[-6,-5,-4,-3,-2,0,1,2,3,4,5,6,7],"range":["#8b2a8f","#6f2584","#304a9a","#2e8ed8","#379ccb","#fbffff","#3e9a44","#a6cb48","#d5ce44","#c9a440","#c08343","#bf5352","#c0107f"]},"legend":null},"detail":{"field":"s"},"order":{"value":null}}},
{"data":{"name":"h"},"mark":{"type":"rule","color":"#8db4dc","strokeWidth":1},"encoding":{"x2":{"field":"x2"}}},
{"data":{"name":"l2"},"transform":[{"filter":"datum.s!='20'"}],"mark":{"type":"line","clip":true,"color":"#111","strokeWidth":2.4},"encoding":{"detail":{"field":"s"},"order":{"value":null}}},
{"data":{"name":"l2"},"transform":[{"filter":"datum.s=='20'"}],"mark":{"type":"line","clip":true,"color":"#111","strokeWidth":6.5},"encoding":{"order":{"value":null}}},
{"data":{"name":"t2"},"mark":{"type":"square","size":420,"color":"white","opacity":1}},
{"data":{"name":"t2"},"mark":{"type":"text","font":"Liberation Sans","fontSize":19,"color":"#111","stroke":"#111","strokeWidth":0.4},"encoding":{"text":{"field":"t"}}},
{"data":{"name":"e"},"mark":{"type":"rule","color":"#1c1c1c","strokeWidth":3.5},"encoding":{"x2":{"field":"x2"}}},
{"data":{"name":"w"},"mark":{"type":"rule","color":"#1c1c1c","strokeWidth":3.5},"encoding":{"y2":{"field":"y2"}}}]},
{"width":574,"height":236,"encoding":{"x":{"field":"x","type":"quantitative","scale":{"domain":[45,115],"nice":false,"zero":false},"axis":null},"y":{"field":"y","type":"quantitative","scale":{"domain":[10,300],"reverse":true,"nice":false,"zero":false},"axis":{"title":"NOV   2006"}}},
"layer":[{"data":{"name":"f3"},"mark":{"type":"line","clip":true,"stroke":null},"encoding":{"fill":{"field":"v","type":"ordinal","scale":{"domain":[-6,-5,-4,-3,-2,0,1,2,3,4,5,6,7],"range":["#8b2a8f","#6f2584","#304a9a","#2e8ed8","#379ccb","#fbffff","#3e9a44","#a6cb48","#d5ce44","#c9a440","#c08343","#bf5352","#c0107f"]},"legend":null},"detail":{"field":"s"},"order":{"value":null}}},
{"data":{"name":"h"},"mark":{"type":"rule","color":"#c3dcea","strokeWidth":1},"encoding":{"x2":{"field":"x2"}}},
{"data":{"name":"l3"},"transform":[{"filter":"datum.s!='20'"}],"mark":{"type":"line","clip":true,"color":"#111","strokeWidth":2.4},"encoding":{"detail":{"field":"s"},"order":{"value":null}}},
{"data":{"name":"l3"},"transform":[{"filter":"datum.s=='20'"}],"mark":{"type":"line","clip":true,"color":"#111","strokeWidth":6.5},"encoding":{"order":{"value":null}}},
{"data":{"name":"t3"},"mark":{"type":"square","size":420,"color":"white","opacity":1}},
{"data":{"name":"t3"},"mark":{"type":"text","font":"Liberation Sans","fontSize":19,"color":"#111","stroke":"#111","strokeWidth":0.4},"encoding":{"text":{"field":"t"}}},
{"data":{"name":"e"},"mark":{"type":"rule","color":"#1c1c1c","strokeWidth":3.5},"encoding":{"x2":{"field":"x2"}}},
{"data":{"name":"w"},"mark":{"type":"rule","color":"#1c1c1c","strokeWidth":3.5},"encoding":{"y2":{"field":"y2"}}}]},
{"width":574,"height":236,"encoding":{"x":{"field":"x","type":"quantitative","scale":{"domain":[45,115],"nice":false,"zero":false},"axis":null},"y":{"field":"y","type":"quantitative","scale":{"domain":[10,300],"reverse":true,"nice":false,"zero":false},"axis":{"title":"DEC   2006"}}},
"layer":[{"data":{"name":"f4"},"mark":{"type":"line","clip":true,"stroke":null},"encoding":{"fill":{"field":"v","type":"ordinal","scale":{"domain":[-6,-5,-4,-3,-2,0,1,2,3,4,5,6,7],"range":["#8b2a8f","#6f2584","#304a9a","#2e8ed8","#379ccb","#fbffff","#3e9a44","#a6cb48","#d5ce44","#c9a440","#c08343","#bf5352","#c0107f"]},"legend":null},"detail":{"field":"s"},"order":{"value":null}}},
{"data":{"name":"h"},"mark":{"type":"rule","color":"#e2f2f8","strokeWidth":1},"encoding":{"x2":{"field":"x2"}}},
{"data":{"name":"l4"},"transform":[{"filter":"datum.s!='20'"}],"mark":{"type":"line","clip":true,"color":"#111","strokeWidth":2.4},"encoding":{"detail":{"field":"s"},"order":{"value":null}}},
{"data":{"name":"l4"},"transform":[{"filter":"datum.s=='20'"}],"mark":{"type":"line","clip":true,"color":"#111","strokeWidth":6.5},"encoding":{"order":{"value":null}}},
{"data":{"name":"t4"},"mark":{"type":"square","size":420,"color":"white","opacity":1}},
{"data":{"name":"t4"},"mark":{"type":"text","font":"Liberation Sans","fontSize":19,"color":"#111","stroke":"#111","strokeWidth":0.4},"encoding":{"text":{"field":"t"}}},
{"data":{"name":"e"},"mark":{"type":"rule","color":"#1c1c1c","strokeWidth":3.5},"encoding":{"x2":{"field":"x2"}}},
{"data":{"name":"w"},"mark":{"type":"rule","color":"#1c1c1c","strokeWidth":3.5},"encoding":{"y2":{"field":"y2"}}}]},
{"width":574,"height":236,"encoding":{"x":{"field":"x","type":"quantitative","scale":{"domain":[45,115],"nice":false,"zero":false},"axis":{"values":[50,60,70,80,90,100,110],"labelExpr":"datum.value+'E'","domain":false,"ticks":false,"grid":false,"title":null,"labelFont":"Liberation Sans","labelFontSize":17,"labelColor":"#222","labelPadding":8}},"y":{"field":"y","type":"quantitative","scale":{"domain":[10,300],"reverse":true,"nice":false,"zero":false},"axis":{"title":"JAN   2007"}}},
"layer":[{"data":{"name":"f5"},"mark":{"type":"line","clip":true,"stroke":null},"encoding":{"fill":{"field":"v","type":"ordinal","scale":{"domain":[-6,-5,-4,-3,-2,0,1,2,3,4,5,6,7],"range":["#8b2a8f","#6f2584","#304a9a","#2e8ed8","#379ccb","#fbffff","#3e9a44","#a6cb48","#d5ce44","#c9a440","#c08343","#bf5352","#c0107f"]},"legend":null},"detail":{"field":"s"},"order":{"value":null}}},
{"data":{"name":"h"},"mark":{"type":"rule","color":"#d5ebf5","strokeWidth":1},"encoding":{"x2":{"field":"x2"}}},
{"data":{"name":"l5"},"transform":[{"filter":"datum.s!='20'"}],"mark":{"type":"line","clip":true,"color":"#111","strokeWidth":2.4},"encoding":{"detail":{"field":"s"},"order":{"value":null}}},
{"data":{"name":"l5"},"transform":[{"filter":"datum.s=='20'"}],"mark":{"type":"line","clip":true,"color":"#111","strokeWidth":6.5},"encoding":{"order":{"value":null}}},
{"data":{"name":"t5"},"mark":{"type":"square","size":420,"color":"white","opacity":1}},
{"data":{"name":"t5"},"mark":{"type":"text","font":"Liberation Sans","fontSize":19,"color":"#111","stroke":"#111","strokeWidth":0.4},"encoding":{"text":{"field":"t"}}},
{"data":{"name":"e"},"mark":{"type":"rule","color":"#1c1c1c","strokeWidth":3.5},"encoding":{"x2":{"field":"x2"}}},
{"data":{"name":"w"},"mark":{"type":"rule","color":"#1c1c1c","strokeWidth":3.5},"encoding":{"y2":{"field":"y2"}}}]},
{"width":574,"height":34,"view":{"fill":null},"encoding":{"x":{"field":"x","type":"quantitative","scale":{"domain":[-0.79,11.85],"nice":false,"zero":false},"axis":null},"y":{"field":"y","type":"quantitative","scale":{"domain":[0,2],"nice":false,"zero":false},"axis":null}},
"layer":[{"data":{"name":"c"},"mark":{"type":"rect","stroke":"#333","strokeWidth":1},"encoding":{"x2":{"field":"x2"},"y2":{"field":"y2"},"fill":{"field":"v","type":"ordinal","scale":{"domain":[-6,-5,-4,-3,-2,0,1,2,3,4,5,6,7],"range":["#8b2a8f","#6f2584","#304a9a","#2e8ed8","#379ccb","#fbffff","#3e9a44","#a6cb48","#d5ce44","#c9a440","#c08343","#bf5352","#c0107f"]},"legend":null}}},
{"data":{"name":"k"},"mark":{"type":"line","stroke":null},"encoding":{"fill":{"field":"v","type":"ordinal","scale":{"domain":[-6,-5,-4,-3,-2,0,1,2,3,4,5,6,7],"range":["#8b2a8f","#6f2584","#304a9a","#2e8ed8","#379ccb","#fbffff","#3e9a44","#a6cb48","#d5ce44","#c9a440","#c08343","#bf5352","#c0107f"]},"legend":null},"detail":{"field":"s"},"order":{"value":null}}},
{"data":{"name":"m"},"mark":{"type":"text","font":"Liberation Sans","fontSize":25,"color":"#222"},"encoding":{"text":{"field":"t"},"y":{"value":51}}}]}
]}
